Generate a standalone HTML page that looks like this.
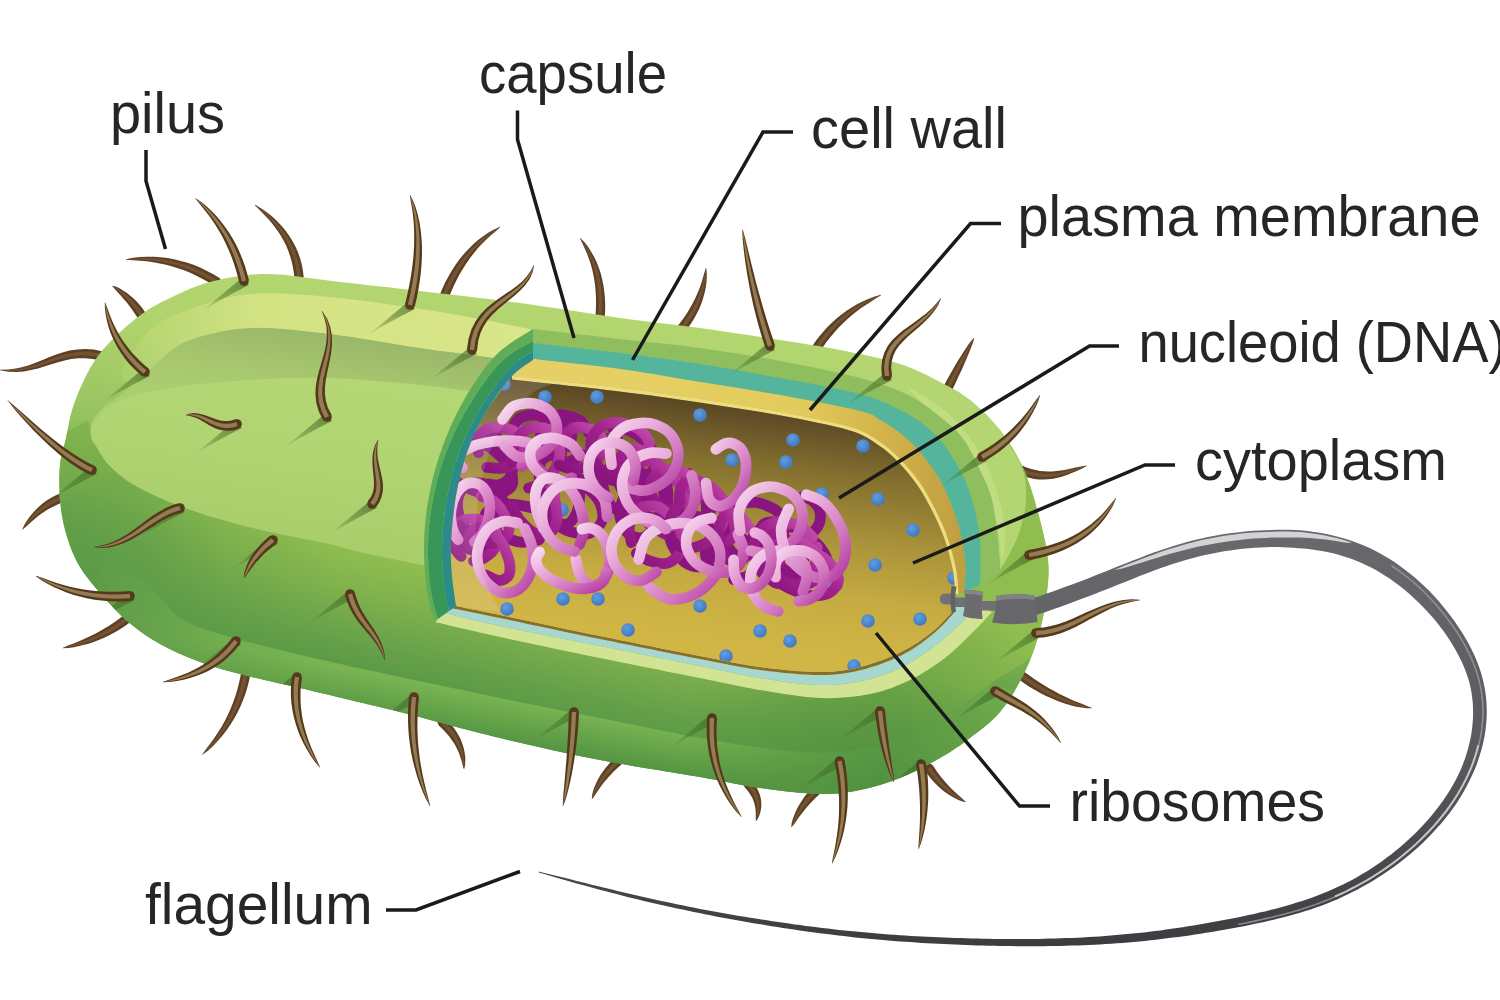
<!DOCTYPE html>
<html lang="en"><head><meta charset="utf-8"><title>Prokaryotic cell</title>
<style>
html,body{margin:0;padding:0;background:#fff;}
body{width:1500px;height:1000px;overflow:hidden;}
svg{display:block;}
text{font-family:"Liberation Sans",sans-serif;fill:#262626;}
</style></head><body>
<svg width="1500" height="1000" viewBox="0 0 1500 1000">
<defs>
<linearGradient id="gBody" gradientUnits="userSpaceOnUse" x1="560" y1="300" x2="500" y2="745">
<stop offset="0" stop-color="#b4d670"/><stop offset="0.38" stop-color="#a9cf69"/><stop offset="0.58" stop-color="#82b852"/><stop offset="0.8" stop-color="#68a549"/><stop offset="1" stop-color="#5a9b46"/></linearGradient>
<linearGradient id="gBand" gradientUnits="userSpaceOnUse" x1="330" y1="544" x2="305" y2="657">
<stop offset="0" stop-color="#8fbd50"/><stop offset="0.35" stop-color="#80b24d"/><stop offset="0.7" stop-color="#6ba44a"/><stop offset="1" stop-color="#5b9a46"/></linearGradient>
<radialGradient id="gBandL" gradientUnits="userSpaceOnUse" cx="70" cy="590" r="270">
<stop offset="0" stop-color="#5a9846" stop-opacity="0.95"/><stop offset="0.3" stop-color="#5c9a47" stop-opacity="0.72"/><stop offset="0.6" stop-color="#5c9a47" stop-opacity="0.25"/><stop offset="1" stop-color="#5c9a47" stop-opacity="0"/></radialGradient>
<linearGradient id="gFace" gradientUnits="userSpaceOnUse" x1="330" y1="334" x2="300" y2="540">
<stop offset="0" stop-color="#9ab86a"/><stop offset="0.24" stop-color="#a8c86e"/><stop offset="0.45" stop-color="#adcf70"/><stop offset="1" stop-color="#a9cd6b"/></linearGradient>
<linearGradient id="gHL" gradientUnits="userSpaceOnUse" x1="110" y1="0" x2="540" y2="0">
<stop offset="0" stop-color="#c4dc7b" stop-opacity="0.2"/><stop offset="0.35" stop-color="#d3e384"/><stop offset="1" stop-color="#d9e689"/></linearGradient>
<linearGradient id="gCyto" gradientUnits="userSpaceOnUse" x1="720" y1="400" x2="690" y2="640">
<stop offset="0" stop-color="#574424"/><stop offset="0.25" stop-color="#84702f"/><stop offset="0.5" stop-color="#a8913a"/><stop offset="0.75" stop-color="#c6ab42"/><stop offset="1" stop-color="#d1b646"/></linearGradient>
<linearGradient id="gYel" gradientUnits="userSpaceOnUse" x1="600" y1="0" x2="960" y2="0">
<stop offset="0" stop-color="#e6d066"/><stop offset="0.55" stop-color="#e3cb5c"/><stop offset="0.78" stop-color="#d3b44b"/><stop offset="1" stop-color="#bf9f40"/></linearGradient>
<linearGradient id="gDNA" x1="0" y1="0" x2="1" y2="1">
<stop offset="0" stop-color="#f6d9ef"/><stop offset="0.35" stop-color="#e9a9d9"/><stop offset="0.7" stop-color="#d277c0"/><stop offset="1" stop-color="#b23a9f"/></linearGradient>
<linearGradient id="gDNA2" x1="1" y1="0" x2="0" y2="1">
<stop offset="0" stop-color="#c552ae"/><stop offset="0.45" stop-color="#a3238f"/><stop offset="1" stop-color="#84127a"/></linearGradient>
<radialGradient id="gRib" cx="0.4" cy="0.35" r="0.7">
<stop offset="0" stop-color="#5f9ee0"/><stop offset="1" stop-color="#3f74bd"/></radialGradient>
<linearGradient id="gFlag" gradientUnits="userSpaceOnUse" x1="0" y1="520" x2="0" y2="950">
<stop offset="0" stop-color="#6a6a6e"/><stop offset="0.55" stop-color="#5a5a5e"/><stop offset="1" stop-color="#3c3c40"/></linearGradient>
<radialGradient id="gBandR" gradientUnits="userSpaceOnUse" cx="880" cy="790" r="210">
<stop offset="0" stop-color="#4c8d3f" stop-opacity="0.9"/><stop offset="0.45" stop-color="#52923f" stop-opacity="0.6"/><stop offset="1" stop-color="#52923f" stop-opacity="0"/></radialGradient>
<linearGradient id="gRim" gradientUnits="userSpaceOnUse" x1="500" y1="697" x2="492" y2="740">
<stop offset="0" stop-color="#7ab452"/><stop offset="0.45" stop-color="#69a64b"/><stop offset="1" stop-color="#549543"/></linearGradient>
<linearGradient id="gSh" x1="1" y1="0" x2="0" y2="1">
<stop offset="0" stop-color="#3c6622" stop-opacity="0.7"/><stop offset="0.6" stop-color="#3f6a24" stop-opacity="0.4"/><stop offset="1" stop-color="#3f6a24" stop-opacity="0.05"/></linearGradient>
<linearGradient id="gFace2" gradientUnits="userSpaceOnUse" x1="330" y1="378" x2="305" y2="545">
<stop offset="0" stop-color="#b4d675"/><stop offset="0.5" stop-color="#b1d472"/><stop offset="1" stop-color="#a9cd6b"/></linearGradient>
<clipPath id="cBody"><path d="M266 274C287.7 274 314.3 279.2 340 282C365.7 284.8 390 287.5 420 291C450 294.5 486.7 298.5 520 303C553.3 307.5 590 313.8 620 318C650 322.2 673.3 324.3 700 328C726.7 331.7 756.7 336.3 780 340C803.3 343.7 820 346 840 350C860 354 883.3 358.7 900 364C916.7 369.3 928.3 376 940 382C951.7 388 960 392 970 400C980 408 991 418.3 1000 430C1009 441.7 1017.3 455 1024 470C1030.7 485 1036 505 1040 520C1044 535 1046.8 548 1048 560C1049.2 572 1048.3 580.3 1047 592C1045.7 603.7 1043.7 616.7 1040 630C1036.3 643.3 1031.7 658.3 1025 672C1018.3 685.7 1009.2 701 1000 712C990.8 723 980 730.3 970 738C960 745.7 951.7 751.3 940 758C928.3 764.7 913.3 772.7 900 778C886.7 783.3 873.3 787.3 860 790C846.7 792.7 836.7 794.3 820 794C803.3 793.7 780 790.8 760 788C740 785.2 726.7 781.7 700 777C673.3 772.3 633.3 766.5 600 760C566.7 753.5 533.3 746 500 738C466.7 730 425 718.3 400 712C375 705.7 366.7 704 350 700C333.3 696 318.3 692.3 300 688C281.7 683.7 256.7 678.3 240 674C223.3 669.7 213.3 667 200 662C186.7 657 172.3 651 160 644C147.7 637 137 629.7 126 620C115 610.3 102.3 596 94 586C85.7 576 80.8 569.3 76 560C71.2 550.7 67.7 540 65 530C62.3 520 60.8 510.8 60 500C59.2 489.2 59 475.3 60 465C61 454.7 64 447.2 66 438C68 428.8 69 419.7 72 410C75 400.3 79.7 389 84 380C88.3 371 92.7 363.3 98 356C103.3 348.7 108.7 343 116 336C123.3 329 133 320.3 142 314C151 307.7 158.7 303.3 170 298C181.3 292.7 194 286 210 282C226 278 244.3 274 266 274Z"/></clipPath>
</defs>
<rect width="1500" height="1000" fill="#fff"/>

<g id="pili-behind">
<circle cx="217" cy="282" r="4.5" fill="#5e4125"/><path d="M219.5 278L213.3 274.3L207 270.9L200.6 267.8L194.1 265.1L187.5 262.8L180.8 260.9L174.1 259.3L167.4 258.1L160.5 257.3L153.7 256.8L146.8 256.7L139.9 257L132.9 257.8L126 259.3L126 259.7L133 260.2L139.9 260.7L146.6 261.3L153.2 262.2L159.7 263.4L166.1 264.8L172.4 266.4L178.6 268.4L184.7 270.6L190.8 273.1L196.8 275.9L202.7 279L208.6 282.3L214.5 286Z" fill="#5e4125"/><path d="M218 280.4L211.9 276.7L205.7 273.4L199.4 270.3L193.1 267.6L186.6 265.2L180.1 263.2L173.6 261.5L167 260.2L160.3 259.1L153.5 258.5L146.7 258.2L139.9 258.2L132.9 258.6L126 259.5L126 259.5L133 259.4L139.9 259.5L146.6 259.9L153.3 260.5L159.9 261.5L166.5 262.7L172.9 264.2L179.3 266.1L185.6 268.2L191.8 270.7L197.9 273.4L204 276.5L210.1 279.9L216 283.6Z" fill="#735332"/>
<circle cx="299" cy="278" r="4.5" fill="#5e4125"/><path d="M303.7 277.5L303 271.3L301.9 265.1L300.3 259L298.3 253.1L295.8 247.3L292.9 241.7L289.7 236.4L286 231.2L281.9 226.2L277.4 221.4L272.5 216.8L267.1 212.5L261.4 208.4L255.1 204.8L254.9 205.2L259.9 210.3L264.7 215.2L269.2 220.1L273.3 225L277 230L280.4 235L283.3 240.1L286 245.3L288.2 250.6L290.1 255.9L291.7 261.4L292.9 266.9L293.8 272.6L294.3 278.5Z" fill="#5e4125"/><path d="M300.8 277.8L300.2 271.7L299.1 265.6L297.6 259.7L295.8 253.9L293.5 248.3L290.8 242.8L287.7 237.5L284.2 232.4L280.4 227.4L276.1 222.5L271.4 217.8L266.4 213.3L260.9 209L255 205L255 205L260.4 209.7L265.5 214.3L270.2 219.1L274.6 223.9L278.5 228.8L282.1 233.8L285.3 239L288.1 244.2L290.5 249.6L292.6 255L294.3 260.6L295.6 266.3L296.6 272.2L297.2 278.2Z" fill="#735332"/>
<circle cx="142" cy="316" r="4.5" fill="#5e4125"/><path d="M145.9 313.4L144.1 310.7L142.2 308.1L140.2 305.5L138 303.1L135.9 300.7L133.6 298.5L131.2 296.4L128.8 294.4L126.3 292.6L123.8 290.9L121.2 289.3L118.5 287.8L115.7 286.6L112.6 285.8L112.4 286.2L114.3 288.6L116.3 290.8L118.3 292.9L120.3 295L122.2 297.2L124.1 299.4L126 301.6L127.8 303.8L129.6 306.2L131.3 308.5L133.1 310.9L134.7 313.4L136.4 315.9L138.1 318.6Z" fill="#5e4125"/><path d="M143.5 315L141.8 312.3L139.9 309.7L138 307.2L136 304.7L133.9 302.4L131.8 300.2L129.6 298L127.4 296L125.1 294L122.7 292.2L120.3 290.4L117.8 288.8L115.2 287.3L112.5 286L112.5 286L114.7 288L117 289.8L119.2 291.8L121.4 293.7L123.5 295.8L125.6 297.8L127.6 300L129.6 302.2L131.5 304.5L133.4 306.8L135.2 309.3L137 311.8L138.8 314.3L140.5 317Z" fill="#735332"/>
<circle cx="64" cy="497" r="4.5" fill="#5e4125"/><path d="M62.4 492.6L58.9 493.9L55.4 495.4L52 497.2L48.7 499.2L45.5 501.3L42.3 503.7L39.4 506.2L36.5 509L33.7 511.9L31.1 514.9L28.6 518.2L26.2 521.7L24.1 525.3L22.3 529.4L22.7 529.6L26 526.8L29 524L32 521.3L35 518.7L37.9 516.3L40.9 514.1L43.9 512L46.9 510.1L49.9 508.3L53 506.7L56 505.2L59.2 503.8L62.3 502.6L65.6 501.4Z" fill="#5e4125"/><path d="M63.4 495.3L59.9 496.5L56.5 498L53.2 499.6L50 501.5L46.8 503.5L43.7 505.7L40.8 508L37.8 510.5L35 513.3L32.3 516.1L29.7 519.2L27.1 522.4L24.7 525.8L22.5 529.5L22.5 529.5L25.4 526.3L28.1 523.3L30.9 520.3L33.8 517.6L36.6 515L39.5 512.5L42.5 510.2L45.5 508.1L48.5 506.2L51.6 504.4L54.8 502.7L58 501.2L61.3 499.9L64.6 498.7Z" fill="#735332"/>
<circle cx="128" cy="618" r="4.5" fill="#5e4125"/><path d="M125.2 614.3L121.2 617.3L117.2 620.2L113.2 623L109.1 625.7L104.9 628.3L100.6 630.8L96.2 633.2L91.7 635.4L87.2 637.6L82.5 639.7L77.8 641.7L72.9 643.7L67.9 645.6L63 647.8L63 648.2L68.5 648L73.9 647.2L79.1 646.1L84.3 644.8L89.4 643.4L94.4 641.7L99.3 639.8L104.1 637.8L108.8 635.6L113.5 633.1L118 630.6L122.4 627.8L126.7 624.8L130.8 621.7Z" fill="#5e4125"/><path d="M126.9 616.6L122.9 619.6L118.8 622.5L114.7 625.3L110.4 628L106.1 630.5L101.7 632.9L97.2 635.2L92.6 637.4L87.9 639.4L83.1 641.3L78.2 643.1L73.2 644.8L68.1 646.4L63 648L63 648L68.3 647.2L73.6 646.1L78.7 644.7L83.7 643.3L88.7 641.6L93.6 639.8L98.3 637.8L103 635.6L107.6 633.3L112.1 630.9L116.5 628.2L120.8 625.5L125 622.5L129.1 619.4Z" fill="#735332"/>
<circle cx="246" cy="672" r="4.5" fill="#5e4125"/><path d="M241.4 671.1L240.2 677.8L238.7 684.3L237 690.7L235.1 696.9L232.9 703L230.5 709.1L227.8 715L224.8 720.9L221.6 726.7L218.1 732.3L214.3 738L210.3 743.5L206.1 749.1L201.9 754.9L202.1 755.1L207.9 750.8L213.1 745.9L217.9 740.8L222.5 735.5L226.7 730L230.6 724.3L234.2 718.5L237.5 712.4L240.5 706.2L243.2 699.8L245.6 693.3L247.6 686.6L249.3 679.8L250.6 672.9Z" fill="#5e4125"/><path d="M244.2 671.7L242.9 678.4L241.4 685L239.6 691.5L237.6 697.8L235.2 704L232.6 710.1L229.8 716.1L226.6 722L223.2 727.7L219.5 733.3L215.5 738.9L211.2 744.3L206.7 749.6L202 755L202 755L207.3 750.2L212.2 745.2L216.8 739.9L221.1 734.5L225.1 729L228.8 723.3L232.2 717.4L235.4 711.4L238.2 705.2L240.7 698.9L242.9 692.5L244.9 685.9L246.5 679.2L247.8 672.3Z" fill="#735332"/>
<circle cx="442" cy="722" r="4.5" fill="#5e4125"/><path d="M438.8 725.4L441.7 728.2L444.4 730.9L446.9 733.7L449.3 736.5L451.4 739.4L453.4 742.3L455.2 745.3L456.8 748.4L458.3 751.5L459.6 754.8L460.7 758.2L461.8 761.6L462.7 765.3L463.8 769L464.2 769L465.1 765.1L465.3 761.2L465.3 757.3L464.8 753.5L464.1 749.7L463.1 745.9L461.8 742.2L460.3 738.5L458.4 735L456.3 731.5L453.9 728.1L451.2 724.8L448.3 721.6L445.2 718.6Z" fill="#5e4125"/><path d="M440.7 723.3L443.8 726.2L446.5 729L449.1 732L451.4 735L453.6 738L455.5 741.2L457.2 744.3L458.8 747.6L460.1 751L461.2 754.4L462.1 757.9L462.9 761.5L463.5 765.2L464 769L464 769L464.3 765.2L464.2 761.3L463.8 757.6L463.2 753.9L462.3 750.2L461.2 746.7L459.8 743.2L458.1 739.7L456.3 736.3L454.1 733L451.8 729.8L449.2 726.7L446.3 723.6L443.3 720.7Z" fill="#735332"/>
<circle cx="622" cy="758" r="4.5" fill="#5e4125"/><path d="M619 754.4L615.9 757.1L612.9 759.9L610 762.8L607.4 765.8L604.9 768.8L602.6 771.9L600.5 775.1L598.6 778.3L596.9 781.6L595.3 784.9L594 788.3L592.9 791.8L592.1 795.3L591.8 798.9L592.2 799.1L594.3 796.2L596.2 793.3L598.1 790.4L600.1 787.6L602.1 784.8L604.2 782.1L606.5 779.4L608.8 776.8L611.2 774.2L613.7 771.6L616.4 769.1L619.1 766.6L622 764.1L625 761.6Z" fill="#5e4125"/><path d="M620.8 756.6L617.7 759.2L614.8 761.9L612 764.7L609.3 767.6L606.9 770.5L604.5 773.4L602.4 776.4L600.3 779.5L598.5 782.6L596.8 785.8L595.3 789L594 792.3L592.8 795.6L592 799L592 799L593.6 795.9L595.2 792.8L596.8 789.8L598.6 786.8L600.5 783.8L602.5 780.9L604.6 778.1L606.9 775.3L609.3 772.5L611.8 769.8L614.4 767.2L617.2 764.5L620.1 762L623.2 759.4Z" fill="#735332"/>
<circle cx="748" cy="784" r="4.5" fill="#5e4125"/><path d="M744.5 787.1L746.4 789.3L748.1 791.3L749.6 793.4L750.9 795.5L752.1 797.6L753.1 799.8L753.9 802L754.6 804.4L755.1 806.8L755.5 809.3L755.7 812L755.8 814.8L755.7 817.7L755.8 820.9L756.2 821.1L758.1 818.3L759.3 815.4L760.3 812.5L760.9 809.5L761.3 806.5L761.3 803.5L761.1 800.5L760.6 797.5L759.7 794.5L758.6 791.6L757.2 788.8L755.6 786L753.6 783.4L751.5 780.9Z" fill="#5e4125"/><path d="M746.6 785.2L748.6 787.5L750.4 789.7L751.9 792L753.3 794.3L754.4 796.7L755.4 799.1L756.1 801.5L756.7 804.1L757 806.7L757.2 809.4L757.1 812.1L756.9 815L756.5 817.9L756 821L756 821L757.3 818.1L758.2 815.2L758.8 812.3L759.2 809.4L759.4 806.6L759.2 803.8L758.9 801L758.3 798.2L757.4 795.5L756.3 792.8L754.9 790.2L753.3 787.6L751.4 785.2L749.4 782.8Z" fill="#735332"/>
<circle cx="816" cy="791" r="4.5" fill="#5e4125"/><path d="M812.7 787.6L810.5 789.9L808.2 792.3L806.1 794.7L804.1 797.3L802.3 799.9L800.5 802.7L798.8 805.4L797.3 808.3L795.9 811.2L794.6 814.2L793.4 817.2L792.4 820.3L791.6 823.5L791.3 826.9L791.7 827.1L793.9 824.5L795.7 821.9L797.5 819.3L799.3 816.8L801.2 814.3L803 811.9L804.9 809.6L806.8 807.3L808.8 805L810.8 802.8L812.8 800.7L814.9 798.6L817 796.5L819.3 794.4Z" fill="#5e4125"/><path d="M814.7 789.7L812.5 791.9L810.3 794.2L808.2 796.6L806.2 799L804.3 801.5L802.4 804.1L800.7 806.7L799.1 809.4L797.5 812.2L796.1 815L794.7 817.9L793.5 820.8L792.4 823.9L791.5 827L791.5 827L793.1 824.2L794.7 821.4L796.3 818.7L797.9 816L799.5 813.4L801.3 810.8L803 808.3L804.9 805.8L806.8 803.5L808.8 801.1L810.8 798.8L812.9 796.6L815 794.5L817.3 792.3Z" fill="#735332"/>
<circle cx="929" cy="768" r="4.5" fill="#5e4125"/><path d="M925.1 770.6L927.2 773.7L929.5 776.8L931.9 779.8L934.4 782.6L937.1 785.3L939.8 787.8L942.6 790.2L945.6 792.5L948.6 794.6L951.8 796.5L955 798.3L958.4 799.9L961.8 801.3L965.5 802.2L965.7 801.8L963 799.2L960.3 796.8L957.6 794.5L955 792.1L952.5 789.7L950 787.3L947.7 784.8L945.4 782.2L943.1 779.6L941 776.9L938.9 774.2L936.9 771.4L934.9 768.5L932.9 765.4Z" fill="#5e4125"/><path d="M927.5 769L929.6 772.1L931.7 775.1L934 778L936.4 780.8L938.9 783.5L941.5 786.1L944.2 788.5L947 790.9L949.8 793.1L952.8 795.2L955.8 797.1L959 798.9L962.2 800.6L965.6 802L965.6 802L962.6 799.9L959.7 797.8L956.8 795.7L954 793.5L951.3 791.2L948.7 788.9L946.1 786.5L943.6 784L941.3 781.4L939 778.7L936.7 775.9L934.6 773L932.5 770.1L930.5 767Z" fill="#735332"/>
<circle cx="1022" cy="676" r="4.5" fill="#5e4125"/><path d="M1019.3 679.8L1024.5 683.5L1029.7 686.9L1035 690L1040.2 693L1045.5 695.7L1050.7 698.1L1055.9 700.3L1061 702.3L1066.2 704L1071.3 705.5L1076.4 706.7L1081.5 707.6L1086.5 708.2L1091.6 708.2L1091.6 707.8L1087 705.9L1082.4 704.1L1077.8 702.3L1073.1 700.4L1068.4 698.3L1063.7 696.1L1058.9 693.7L1054.2 691.1L1049.4 688.4L1044.5 685.5L1039.7 682.4L1034.7 679.2L1029.8 675.8L1024.7 672.2Z" fill="#5e4125"/><path d="M1021 677.5L1026.1 681.1L1031.3 684.5L1036.4 687.7L1041.5 690.7L1046.7 693.4L1051.7 696L1056.8 698.3L1061.9 700.4L1066.9 702.3L1071.9 703.9L1076.8 705.3L1081.8 706.5L1086.7 707.5L1091.6 708L1091.6 708L1086.9 706.6L1082.1 705.2L1077.3 703.7L1072.5 702L1067.7 700.1L1062.9 698L1058 695.7L1053.1 693.3L1048.2 690.6L1043.2 687.8L1038.2 684.8L1033.2 681.5L1028.2 678.1L1023 674.5Z" fill="#735332"/>
<circle cx="946" cy="392" r="4.5" fill="#5e4125"/><path d="M950.2 394.1L952.2 390.1L954.1 386.1L956 382.1L957.8 378.1L959.7 374.1L961.5 370.2L963.3 366.2L965 362.2L966.7 358.3L968.4 354.3L970 350.3L971.6 346.3L973.1 342.3L974.2 338.1L973.8 337.9L970.9 341.2L968.4 344.6L966 348.2L963.6 351.8L961.3 355.4L959 359.1L956.7 362.8L954.5 366.6L952.3 370.4L950.2 374.2L948 378.1L945.9 382L943.8 385.9L941.8 389.9Z" fill="#5e4125"/><path d="M947.6 392.8L949.6 388.8L951.6 384.8L953.5 380.9L955.5 376.9L957.4 373L959.3 369.1L961.3 365.1L963.2 361.3L965 357.4L966.9 353.5L968.8 349.6L970.6 345.8L972.4 341.9L974 338L974 338L971.6 341.5L969.4 345.2L967.2 348.8L965.1 352.5L963 356.3L960.8 360.1L958.7 363.9L956.7 367.7L954.6 371.5L952.5 375.4L950.5 379.3L948.4 383.2L946.4 387.2L944.4 391.2Z" fill="#735332"/>
<circle cx="816" cy="349" r="4.5" fill="#5e4125"/><path d="M819.9 351.6L823.3 346.5L826.8 341.6L830.5 336.9L834.3 332.4L838.2 328.1L842.3 323.9L846.6 319.8L851 316L855.6 312.2L860.4 308.6L865.3 305.2L870.5 301.9L875.7 298.6L881.1 295.2L880.9 294.8L874.7 296.4L868.8 298.7L863.1 301.2L857.5 304L852.1 307.2L846.9 310.5L841.9 314.2L837.1 318.1L832.4 322.2L827.9 326.6L823.7 331.2L819.6 336L815.7 341.1L812.1 346.4Z" fill="#5e4125"/><path d="M817.5 350L821 344.9L824.6 339.9L828.4 335.2L832.3 330.6L836.4 326.3L840.7 322.1L845.2 318.1L849.8 314.3L854.5 310.7L859.5 307.2L864.6 304L869.9 300.9L875.4 297.9L881 295L881 295L875.1 297.1L869.3 299.7L863.8 302.5L858.4 305.5L853.2 308.7L848.2 312.2L843.3 315.9L838.7 319.8L834.2 324L829.9 328.4L825.7 332.9L821.8 337.8L818 342.8L814.5 348Z" fill="#735332"/>
<circle cx="682" cy="328" r="4.5" fill="#5e4125"/><path d="M685.7 330.8L688.8 326.7L691.7 322.5L694.3 318.2L696.7 313.8L698.9 309.4L700.8 304.9L702.4 300.4L703.8 295.8L705 291.2L705.9 286.6L706.5 282L706.8 277.3L706.8 272.7L706.2 268L705.8 268L704.4 272.4L703.2 276.8L702 281.1L700.6 285.3L699.1 289.5L697.4 293.6L695.6 297.6L693.6 301.6L691.5 305.6L689.2 309.6L686.7 313.5L684.1 317.4L681.3 321.2L678.3 325.2Z" fill="#5e4125"/><path d="M683.5 329.1L686.5 325L689.4 320.9L692 316.7L694.4 312.5L696.6 308.2L698.6 303.9L700.3 299.5L701.8 295.1L703.1 290.7L704.2 286.2L705.1 281.7L705.7 277.2L706 272.6L706 268L706 268L705.2 272.5L704.4 277L703.4 281.4L702.2 285.7L700.9 290L699.4 294.3L697.7 298.5L695.8 302.6L693.7 306.8L691.5 310.9L689 314.9L686.4 318.9L683.6 322.9L680.5 326.9Z" fill="#735332"/>
<circle cx="600" cy="318" r="4.5" fill="#5e4125"/><path d="M604.7 318.3L605.1 311.4L605.2 304.6L604.9 298L604.3 291.5L603.4 285.2L602.1 279L600.6 273.1L598.7 267.4L596.5 261.8L593.9 256.5L591 251.4L587.9 246.6L584.3 242L580.2 237.9L579.8 238.1L582.3 243.3L584.7 248.4L587 253.5L588.9 258.7L590.7 264L592.2 269.4L593.4 274.9L594.4 280.5L595.2 286.3L595.7 292.3L596 298.4L596 304.6L595.8 311L595.3 317.7Z" fill="#5e4125"/><path d="M601.8 318.1L602.2 311.3L602.3 304.6L602.2 298.1L601.7 291.7L600.9 285.5L599.8 279.5L598.4 273.7L596.7 268L594.7 262.5L592.4 257.2L589.8 252.1L586.9 247.1L583.6 242.4L580 238L580 238L582.9 242.9L585.7 247.8L588.2 252.8L590.5 258L592.5 263.3L594.2 268.8L595.6 274.3L596.8 280.1L597.7 286L598.3 292L598.7 298.2L598.8 304.6L598.6 311.1L598.2 317.9Z" fill="#735332"/>
<circle cx="444" cy="297" r="4.5" fill="#5e4125"/><path d="M448.4 298.8L451 292.2L453.7 286L456.6 280.1L459.6 274.3L462.9 268.8L466.3 263.4L469.9 258.3L473.6 253.4L477.6 248.6L481.8 244.1L486.1 239.7L490.6 235.5L495.4 231.4L500.1 227.2L499.9 226.8L494 229.4L488.5 232.6L483.2 236.2L478.1 240.1L473.2 244.3L468.6 248.9L464.1 253.7L459.9 258.8L455.9 264.2L452.2 269.9L448.7 275.9L445.4 282.1L442.4 288.6L439.6 295.2Z" fill="#5e4125"/><path d="M445.7 297.7L448.3 291.1L451.2 284.8L454.2 278.8L457.4 273L460.7 267.4L464.3 262L468.1 256.9L472.1 252L476.2 247.3L480.6 242.9L485.2 238.6L490 234.6L494.9 230.8L500 227L500 227L494.4 230.1L489.2 233.5L484.1 237.3L479.2 241.3L474.6 245.7L470.1 250.3L465.9 255.1L461.9 260.2L458.1 265.6L454.5 271.3L451.1 277.1L448 283.3L445 289.7L442.3 296.3Z" fill="#735332"/>
<circle cx="102" cy="356" r="4.5" fill="#5e4125"/><path d="M102.9 351.4L94 349.6L85.3 349L77.2 349.4L69.6 350.6L62.4 352.4L55.6 354.7L49 357.3L42.6 359.9L36.2 362.5L29.7 364.9L22.9 366.9L15.9 368.4L8.3 369.4L0 369.8L-0 370.2L8.3 371.8L16.2 372L23.8 371.4L31.1 370.1L38.1 368.4L44.9 366.3L51.5 364.2L58 362.2L64.6 360.4L71.2 359.1L78 358.3L85.1 358.2L92.7 358.9L101.1 360.6Z" fill="#5e4125"/><path d="M102.4 354.2L93.6 352.5L85.3 351.8L77.5 352.1L70.1 353.2L63.1 354.9L56.3 357L49.8 359.4L43.3 361.9L36.8 364.3L30.1 366.5L23.2 368.3L16 369.6L8.3 370.1L0 370L-0 370L8.3 371L16.1 370.9L23.5 370L30.6 368.5L37.5 366.5L44.2 364.3L50.7 362.1L57.3 359.9L63.9 358L70.7 356.5L77.8 355.5L85.2 355.3L93.1 356L101.6 357.8Z" fill="#735332"/>
<circle cx="1020" cy="470" r="4.5" fill="#5e4125"/><path d="M1018.4 474.4L1023.7 476.3L1029 477.8L1034.1 478.9L1039 479.4L1043.8 479.6L1048.5 479.3L1053.2 478.7L1057.8 477.8L1062.4 476.5L1067 475L1071.8 473.1L1076.7 471L1081.8 468.7L1087.1 465.8L1086.9 465.4L1081 466.4L1075.5 467.6L1070.4 468.7L1065.6 469.7L1061 470.5L1056.6 471.1L1052.3 471.4L1048.2 471.5L1044.1 471.3L1040 470.9L1035.7 470.1L1031.3 469L1026.7 467.5L1021.6 465.6Z" fill="#5e4125"/><path d="M1019.4 471.7L1024.6 473.6L1029.7 475.1L1034.6 476.2L1039.3 476.8L1043.9 477.1L1048.4 476.9L1052.9 476.5L1057.4 475.7L1061.9 474.6L1066.6 473.3L1071.3 471.8L1076.3 470L1081.5 467.9L1087 465.6L1087 465.6L1081.3 467.1L1075.9 468.7L1070.8 470.1L1066 471.3L1061.4 472.4L1056.9 473.1L1052.6 473.7L1048.3 473.9L1044 473.9L1039.7 473.5L1035.2 472.8L1030.6 471.7L1025.8 470.2L1020.6 468.3Z" fill="#735332"/>
</g>
<g id="body">
<path d="M266 274C287.7 274 314.3 279.2 340 282C365.7 284.8 390 287.5 420 291C450 294.5 486.7 298.5 520 303C553.3 307.5 590 313.8 620 318C650 322.2 673.3 324.3 700 328C726.7 331.7 756.7 336.3 780 340C803.3 343.7 820 346 840 350C860 354 883.3 358.7 900 364C916.7 369.3 928.3 376 940 382C951.7 388 960 392 970 400C980 408 991 418.3 1000 430C1009 441.7 1017.3 455 1024 470C1030.7 485 1036 505 1040 520C1044 535 1046.8 548 1048 560C1049.2 572 1048.3 580.3 1047 592C1045.7 603.7 1043.7 616.7 1040 630C1036.3 643.3 1031.7 658.3 1025 672C1018.3 685.7 1009.2 701 1000 712C990.8 723 980 730.3 970 738C960 745.7 951.7 751.3 940 758C928.3 764.7 913.3 772.7 900 778C886.7 783.3 873.3 787.3 860 790C846.7 792.7 836.7 794.3 820 794C803.3 793.7 780 790.8 760 788C740 785.2 726.7 781.7 700 777C673.3 772.3 633.3 766.5 600 760C566.7 753.5 533.3 746 500 738C466.7 730 425 718.3 400 712C375 705.7 366.7 704 350 700C333.3 696 318.3 692.3 300 688C281.7 683.7 256.7 678.3 240 674C223.3 669.7 213.3 667 200 662C186.7 657 172.3 651 160 644C147.7 637 137 629.7 126 620C115 610.3 102.3 596 94 586C85.7 576 80.8 569.3 76 560C71.2 550.7 67.7 540 65 530C62.3 520 60.8 510.8 60 500C59.2 489.2 59 475.3 60 465C61 454.7 64 447.2 66 438C68 428.8 69 419.7 72 410C75 400.3 79.7 389 84 380C88.3 371 92.7 363.3 98 356C103.3 348.7 108.7 343 116 336C123.3 329 133 320.3 142 314C151 307.7 158.7 303.3 170 298C181.3 292.7 194 286 210 282C226 278 244.3 274 266 274Z" fill="url(#gBody)"/>
<g clip-path="url(#cBody)">
<path d="M70 500C73.3 505 81 521.3 90 530C99 538.7 114 542.7 124 552C134 561.3 140.7 575 150 586C159.3 597 168.3 610 180 618C191.7 626 203.3 628.7 220 634C236.7 639.3 260 645 280 650C300 655 320 659.5 340 664C360 668.5 373.3 671.3 400 677C426.7 682.7 466.7 691.2 500 698C533.3 704.8 566.7 711.3 600 718C633.3 724.7 670 732.7 700 738C730 743.3 756.7 747.7 780 750C803.3 752.3 820 753.7 840 752C860 750.3 881.7 746 900 740C918.3 734 935 725.3 950 716C965 706.7 975 695 990 684C1005 673 1025.8 664 1040 650C1054.2 636 1069.2 630 1075 600C1080.8 570 1085.5 498.7 1075 470C1064.5 441.3 1022.5 435 1012 428L1000 440L940 395L800 370L533 340L432 567L432 567C420 564.5 377 555.8 360 552C343 548.2 343.3 547 330 544C316.7 541 296.7 537.7 280 534C263.3 530.3 246.7 526.7 230 522C213.3 517.3 195.7 512 180 506C164.3 500 147.7 492.7 136 486C124.3 479.3 116.7 472.7 110 466C103.3 459.3 99.7 453.7 96 446C92.3 438.3 89.3 424.3 88 420L60 436L30 500Z" fill="url(#gBand)"/>
<path d="M150 586C155 591.3 168.3 610 180 618C191.7 626 203.3 628.7 220 634C236.7 639.3 260 645 280 650C300 655 320 659.5 340 664C360 668.5 373.3 671.3 400 677C426.7 682.7 466.7 691.2 500 698C533.3 704.8 566.7 711.3 600 718C633.3 724.7 670 732.7 700 738C730 743.3 756.7 747.7 780 750C803.3 752.3 820 753.7 840 752C860 750.3 881.7 746 900 740C918.3 734 935 725.3 950 716C965 706.7 983.3 689.3 990 684L1045 700L1100 720L1100 900L60 900L100 560Z" fill="url(#gRim)"/>
<path d="M266 274C287.7 274 314.3 279.2 340 282C365.7 284.8 390 287.5 420 291C450 294.5 486.7 298.5 520 303C553.3 307.5 590 313.8 620 318C650 322.2 673.3 324.3 700 328C726.7 331.7 756.7 336.3 780 340C803.3 343.7 820 346 840 350C860 354 883.3 358.7 900 364C916.7 369.3 928.3 376 940 382C951.7 388 960 392 970 400C980 408 991 418.3 1000 430C1009 441.7 1017.3 455 1024 470C1030.7 485 1036 505 1040 520C1044 535 1046.8 548 1048 560C1049.2 572 1048.3 580.3 1047 592C1045.7 603.7 1043.7 616.7 1040 630C1036.3 643.3 1031.7 658.3 1025 672C1018.3 685.7 1009.2 701 1000 712C990.8 723 980 730.3 970 738C960 745.7 951.7 751.3 940 758C928.3 764.7 913.3 772.7 900 778C886.7 783.3 873.3 787.3 860 790C846.7 792.7 836.7 794.3 820 794C803.3 793.7 780 790.8 760 788C740 785.2 726.7 781.7 700 777C673.3 772.3 633.3 766.5 600 760C566.7 753.5 533.3 746 500 738C466.7 730 425 718.3 400 712C375 705.7 366.7 704 350 700C333.3 696 318.3 692.3 300 688C281.7 683.7 256.7 678.3 240 674C223.3 669.7 213.3 667 200 662C186.7 657 172.3 651 160 644C147.7 637 137 629.7 126 620C115 610.3 102.3 596 94 586C85.7 576 80.8 569.3 76 560C71.2 550.7 67.7 540 65 530C62.3 520 60.8 510.8 60 500C59.2 489.2 59 475.3 60 465C61 454.7 64 447.2 66 438C68 428.8 69 419.7 72 410C75 400.3 79.7 389 84 380C88.3 371 92.7 363.3 98 356C103.3 348.7 108.7 343 116 336C123.3 329 133 320.3 142 314C151 307.7 158.7 303.3 170 298C181.3 292.7 194 286 210 282C226 278 244.3 274 266 274Z" fill="url(#gBandL)"/>
<path d="M266 274C287.7 274 314.3 279.2 340 282C365.7 284.8 390 287.5 420 291C450 294.5 486.7 298.5 520 303C553.3 307.5 590 313.8 620 318C650 322.2 673.3 324.3 700 328C726.7 331.7 756.7 336.3 780 340C803.3 343.7 820 346 840 350C860 354 883.3 358.7 900 364C916.7 369.3 928.3 376 940 382C951.7 388 960 392 970 400C980 408 991 418.3 1000 430C1009 441.7 1017.3 455 1024 470C1030.7 485 1036 505 1040 520C1044 535 1046.8 548 1048 560C1049.2 572 1048.3 580.3 1047 592C1045.7 603.7 1043.7 616.7 1040 630C1036.3 643.3 1031.7 658.3 1025 672C1018.3 685.7 1009.2 701 1000 712C990.8 723 980 730.3 970 738C960 745.7 951.7 751.3 940 758C928.3 764.7 913.3 772.7 900 778C886.7 783.3 873.3 787.3 860 790C846.7 792.7 836.7 794.3 820 794C803.3 793.7 780 790.8 760 788C740 785.2 726.7 781.7 700 777C673.3 772.3 633.3 766.5 600 760C566.7 753.5 533.3 746 500 738C466.7 730 425 718.3 400 712C375 705.7 366.7 704 350 700C333.3 696 318.3 692.3 300 688C281.7 683.7 256.7 678.3 240 674C223.3 669.7 213.3 667 200 662C186.7 657 172.3 651 160 644C147.7 637 137 629.7 126 620C115 610.3 102.3 596 94 586C85.7 576 80.8 569.3 76 560C71.2 550.7 67.7 540 65 530C62.3 520 60.8 510.8 60 500C59.2 489.2 59 475.3 60 465C61 454.7 64 447.2 66 438C68 428.8 69 419.7 72 410C75 400.3 79.7 389 84 380C88.3 371 92.7 363.3 98 356C103.3 348.7 108.7 343 116 336C123.3 329 133 320.3 142 314C151 307.7 158.7 303.3 170 298C181.3 292.7 194 286 210 282C226 278 244.3 274 266 274Z" fill="url(#gBandR)"/>
</g>
<path d="M545 364C534.2 362.5 500.8 357.7 480 355C459.2 352.3 445 351.5 420 348C395 344.5 358.3 337.3 330 334C301.7 330.7 273.3 327 250 328C226.7 329 205 334.7 190 340C175 345.3 170.8 351.3 160 360C149.2 368.7 134.5 384 125 392C115.5 400 108.5 403 103 408C97.5 413 94 417.3 92 422C90 426.7 90.3 432 91 436C91.7 440 92.8 441 96 446C99.2 451 103.3 459.3 110 466C116.7 472.7 124.3 479.3 136 486C147.7 492.7 164.3 500 180 506C195.7 512 213.3 517.3 230 522C246.7 526.7 263.3 530.3 280 534C296.7 537.7 316.7 541 330 544C343.3 547 343 548.2 360 552C377 555.8 420 564.5 432 567L545 592Z" fill="url(#gFace)"/>
<path d="M545 402C525.8 399.3 465.8 390 430 386C394.2 382 360 379 330 378C300 377 276.7 378.3 250 380C223.3 381.7 192 384.3 170 388C148 391.7 130.5 396.3 118 402C105.5 407.7 99.5 416.3 95 422C90.5 427.7 90.8 432 91 436C91.2 440 92.8 441 96 446C99.2 451 103.3 459.3 110 466C116.7 472.7 124.3 479.3 136 486C147.7 492.7 164.3 500 180 506C195.7 512 213.3 517.3 230 522C246.7 526.7 263.3 530.3 280 534C296.7 537.7 316.7 541 330 544C343.3 547 343 548.2 360 552C377 555.8 420 564.5 432 567L545 592Z" fill="url(#gFace2)"/>
<path d="M120 372C125 365 138.3 340.5 150 330C161.7 319.5 173.3 315 190 309C206.7 303 226.7 296 250 294C273.3 292 301.7 294.5 330 297C358.3 299.5 395 305.3 420 309C445 312.7 460.7 315.4 480 319C499.3 322.6 526.7 328.6 536 330.5L536 364C526.7 362.7 499.3 358.7 480 356C460.7 353.3 445 351.7 420 348C395 344.3 358.3 337.3 330 334C301.7 330.7 273.3 327 250 328C226.7 329 205 334.7 190 340C175 345.3 170 352 160 360C150 368 135 383.3 130 388Z" fill="url(#gHL)"/>
</g>
<g id="cut">
<path d="M860 378C868.3 381 896 389 910 396C924 403 935 412.7 944 420C953 427.3 958 431.7 964 440C970 448.3 975.3 460 980 470C984.7 480 989 488.3 992 500C995 511.7 996.7 528.3 998 540C999.3 551.7 999.7 565 1000 570L1000 570C1001.7 567.2 1006.7 559.7 1010 553C1013.3 546.3 1017.3 538.8 1020 530C1022.7 521.2 1025.7 510.3 1026 500C1026.3 489.7 1026.3 479.7 1022 468C1017.7 456.3 1003.7 436.3 1000 430L970 400L940 382L900 364L860 354Z" fill="#b3d672"/>
<path d="M905 385C912.5 390 936.7 402.2 950 415C963.3 427.8 976 444.5 985 462C994 479.5 1001.2 503.3 1004 520C1006.8 536.7 1003.3 562 1002 562C1000.7 562 1000.3 535.3 996 520C991.7 504.7 984.7 485.3 976 470C967.3 454.7 955.8 442.2 944 428C932.2 413.8 911.5 392.2 905 385" fill="#c0dd82"/>
<path d="M533 329C547.5 330.7 592.2 335.8 620 339C647.8 342.2 673.3 344.3 700 348C726.7 351.7 753.3 356 780 361C806.7 366 838.3 372.2 860 378C881.7 383.8 896 389 910 396C924 403 935 412.7 944 420C953 427.3 958 431.7 964 440C970 448.3 975.3 460 980 470C984.7 480 989 488.3 992 500C995 511.7 996.7 528.3 998 540C999.3 551.7 999.7 565 1000 570L980 585C980 577.5 981.3 554.2 980 540C978.7 525.8 975.3 511.7 972 500C968.7 488.3 965.3 480 960 470C954.7 460 946.7 448 940 440C933.3 432 926.7 427 920 422C913.3 417 910 414.7 900 410C890 405.3 880 399.3 860 394C840 388.7 806.7 383 780 378C753.3 373 726.7 368.2 700 364C673.3 359.8 647.8 356.5 620 353C592.2 349.5 547.5 344.7 533 343Z" fill="#8fbe5f"/>
<path d="M533 343C547.5 344.7 592.2 349.5 620 353C647.8 356.5 673.3 359.8 700 364C726.7 368.2 753.3 373 780 378C806.7 383 840 388.7 860 394C880 399.3 890 405.3 900 410C910 414.7 913.3 417 920 422C926.7 427 933.3 432 940 440C946.7 448 954.7 460 960 470C965.3 480 968.7 488.3 972 500C975.3 511.7 978.7 525.8 980 540C981.3 554.2 980 577.5 980 585L964 592C964.2 588.3 965.8 578.7 965.5 570C965.2 561.3 963.9 549.7 962 540C960.1 530.3 957.7 522 954 512C950.3 502 945.7 490 940 480C934.3 470 926.7 459.8 920 452C913.3 444.2 906.7 438.3 900 433C893.3 427.7 886.7 423.7 880 420C873.3 416.3 876.7 415.2 860 411C843.3 406.8 806.7 399.8 780 395C753.3 390.2 726.7 386.3 700 382C673.3 377.7 647.8 372.8 620 369C592.2 365.2 547.5 360.7 533 359Z" fill="#55b49c"/>
<path d="M533 359C547.5 360.7 592.2 365.2 620 369C647.8 372.8 673.3 377.7 700 382C726.7 386.3 753.3 390.2 780 395C806.7 399.8 843.3 406.8 860 411C876.7 415.2 873.3 416.3 880 420C886.7 423.7 893.3 427.7 900 433C906.7 438.3 913.3 444.2 920 452C926.7 459.8 934.3 470 940 480C945.7 490 950.3 502 954 512C957.7 522 960.1 530.3 962 540C963.9 549.7 965.2 561.3 965.5 570C965.8 578.7 964.2 588.3 964 592L958.5 594C958.1 589.8 957.8 578.2 956 569C954.2 559.8 951.3 548.7 948 539C944.7 529.3 940.7 520.3 936 511C931.3 501.7 926 491.7 920 483C914 474.3 906.7 465.8 900 459C893.3 452.2 888.3 447.3 880 442C871.7 436.7 866.7 432 850 427C833.3 422 805 416.7 780 412C755 407.3 726.7 403 700 399C673.3 395 651.3 391.8 620 388C588.7 384.2 530 378 512 376Z" fill="url(#gYel)"/>
<path d="M512 376C530 378 588.7 384.2 620 388C651.3 391.8 673.3 395 700 399C726.7 403 755 407.3 780 412C805 416.7 833.3 422 850 427C866.7 432 871.7 436.7 880 442C888.3 447.3 893.3 452.2 900 459C906.7 465.8 914 474.3 920 483C926 491.7 931.3 501.7 936 511C940.7 520.3 944.7 529.3 948 539C951.3 548.7 954.2 559.8 956 569C957.8 578.2 958.1 589.8 958.5 594L955.1 594.3C954.7 590.2 954.4 578.7 952.7 569.6C950.9 560.6 948.1 549.6 944.8 540.1C941.5 530.6 937.6 521.7 933 512.5C928.4 503.3 923.1 493.5 917.2 484.9C911.3 476.4 904.1 468.1 897.6 461.4C891.1 454.7 886.3 450.1 878.2 444.9C870.1 439.7 865.5 435.2 849 430.3C832.6 425.3 804.3 420 779.4 415.3C754.5 410.7 726.1 406.4 699.5 402.4C672.9 398.4 650.8 395.2 619.6 391.4C588.3 387.6 529.9 381.5 512 379.5Z" fill="#f0dc7c"/>
<path d="M435 622C445.8 624.5 472.5 631 500 637C527.5 643 566.7 651.2 600 658C633.3 664.8 673.3 672.7 700 678C726.7 683.3 740 686.7 760 690C780 693.3 801.7 697.3 820 698C838.3 698.7 855 697 870 694C885 691 897.5 686 910 680C922.5 674 934.2 666.3 945 658C955.8 649.7 967.2 637.7 975 630C982.8 622.3 989.2 615 992 612L976 606C973.7 608.7 968.7 615.5 962 622C955.3 628.5 945.7 637.7 936 645C926.3 652.3 915.7 660.2 904 666C892.3 671.8 880 676.8 866 680C852 683.2 837.7 685.3 820 685C802.3 684.7 780 681.2 760 678C740 674.8 726.7 671.3 700 666C673.3 660.7 633.3 652.7 600 646C566.7 639.3 526.7 631.7 500 626C473.3 620.3 450 614.3 440 612Z" fill="#d3e394"/>
<path d="M440 612C450 614.3 473.3 620.3 500 626C526.7 631.7 566.7 639.3 600 646C633.3 652.7 673.3 660.7 700 666C726.7 671.3 740 674.8 760 678C780 681.2 802.3 684.7 820 685C837.7 685.3 852 683.2 866 680C880 676.8 892.3 671.8 904 666C915.7 660.2 926.3 652.3 936 645C945.7 637.7 955.3 628.5 962 622C968.7 615.5 973.7 608.7 976 606L960 598C958.7 600 957 604.5 952 610C947 615.5 938.7 624.2 930 631C921.3 637.8 911.7 645.2 900 651C888.3 656.8 873.3 662.7 860 666C846.7 669.3 836.7 671 820 671C803.3 671 780 668.7 760 666C740 663.3 726.7 660.3 700 655C673.3 649.7 633.3 640.8 600 634C566.7 627.2 524.8 619 500 614C475.2 609 459.2 605.7 451 604Z" fill="#a6d8d0"/>
<path d="M954 610C950.3 613.7 940.8 625 932 632C923.2 639 913 646.2 901 652C889 657.8 873.5 663.7 860 667C846.5 670.3 836.7 672 820 672C803.3 672 780 669.7 760 667C740 664.3 726.7 661.2 700 656C673.3 650.8 633.3 642.8 600 636C566.7 629.2 524 620 500 615C476 610 463.3 607.5 456 606L451 608L451 608C459.2 609.7 475.2 612.8 500 618C524.8 623.2 566.7 632.2 600 639C633.3 645.8 673.3 653.8 700 659C726.7 664.2 740 667.3 760 670C780 672.7 803.2 675 820 675C836.8 675 847.3 673.3 861 670C874.7 666.7 890 661 902 655C914 649 924.3 641 933 634C941.7 627 950.5 616.5 954 613Z" fill="#8a6f22"/>
<path id="cyto" d="M512 379.5C529.9 381.5 588.3 387.6 619.6 391.4C650.8 395.2 672.9 398.4 699.5 402.4C726.1 406.4 754.5 410.7 779.4 415.3C804.3 420 832.6 425.3 849 430.3C865.5 435.2 870.1 439.7 878.2 444.9C886.3 450.1 891.1 454.7 897.6 461.4C904.1 468.1 911.3 476.4 917.2 484.9C923.1 493.5 928.4 503.3 933 512.5C937.6 521.7 941.5 530.6 944.8 540.1C948.1 549.6 950.9 560.6 952.7 569.6C954.4 578.7 954.7 590.2 955.1 594.3L954 610C950.3 613.7 940.8 625 932 632C923.2 639 913 646.2 901 652C889 657.8 873.5 663.7 860 667C846.5 670.3 836.7 672 820 672C803.3 672 780 669.7 760 667C740 664.3 726.7 661.2 700 656C673.3 650.8 633.3 642.8 600 636C566.7 629.2 524 620 500 615C476 610 463.3 607.5 456 606L456 606C455.3 601 452.8 586.3 452 576C451.2 565.7 450.3 557.3 451 544C451.7 530.7 453.2 511.7 456 496C458.8 480.3 463 464 468 450C473 436 478.7 424.3 486 412C493.3 399.7 507.7 382 512 376Z" fill="url(#gCyto)"/>
<clipPath id="cCyto"><path d="M512 379.5C529.9 381.5 588.3 387.6 619.6 391.4C650.8 395.2 672.9 398.4 699.5 402.4C726.1 406.4 754.5 410.7 779.4 415.3C804.3 420 832.6 425.3 849 430.3C865.5 435.2 870.1 439.7 878.2 444.9C886.3 450.1 891.1 454.7 897.6 461.4C904.1 468.1 911.3 476.4 917.2 484.9C923.1 493.5 928.4 503.3 933 512.5C937.6 521.7 941.5 530.6 944.8 540.1C948.1 549.6 950.9 560.6 952.7 569.6C954.4 578.7 954.7 590.2 955.1 594.3L954 610C950.3 613.7 940.8 625 932 632C923.2 639 913 646.2 901 652C889 657.8 873.5 663.7 860 667C846.5 670.3 836.7 672 820 672C803.3 672 780 669.7 760 667C740 664.3 726.7 661.2 700 656C673.3 650.8 633.3 642.8 600 636C566.7 629.2 524 620 500 615C476 610 463.3 607.5 456 606L456 606C455.3 601 452.8 586.3 452 576C451.2 565.7 450.3 557.3 451 544C451.7 530.7 453.2 511.7 456 496C458.8 480.3 463 464 468 450C473 436 478.7 424.3 486 412C493.3 399.7 507.7 382 512 376Z"/></clipPath>
<path d="M533 329C526.8 333.3 507.5 343.2 496 355C484.5 366.8 473 384.5 464 400C455 415.5 447.8 432 442 448C436.2 464 432 480 429 496C426 512 424.3 528 424 544C423.7 560 425.2 579 427 592C428.8 605 433.7 617 435 622L438 619C436.8 614.2 432.7 602.5 431 590C429.3 577.5 427.6 559.5 428 544C428.4 528.5 430.3 512.7 433.5 497C436.7 481.3 440.9 465.5 447 450C453.1 434.5 460.8 418.8 470 404C479.2 389.2 491.5 371.5 502 361C512.5 350.5 527.8 344.3 533 341Z" fill="#5fad58"/>
<path d="M533 341C527.8 344.3 512.5 350.5 502 361C491.5 371.5 479.2 389.2 470 404C460.8 418.8 453.1 434.5 447 450C440.9 465.5 436.7 481.3 433.5 497C430.3 512.7 428.4 528.5 428 544C427.6 559.5 429.3 577.5 431 590C432.7 602.5 436.8 614.2 438 619L449 611C448.2 606.3 445.2 594.2 444 583C442.8 571.8 441.5 558.2 442 544C442.5 529.8 444.2 513.2 447 498C449.8 482.8 453.5 467.8 459 453C464.5 438.2 471.7 423 480 409C488.3 395 500.2 378.7 509 369C517.8 359.3 529 354 533 351Z" fill="#389659"/>
<path d="M533 351C529 354 517.8 359.3 509 369C500.2 378.7 488.3 395 480 409C471.7 423 464.5 438.2 459 453C453.5 467.8 449.8 482.8 447 498C444.2 513.2 442.5 529.8 442 544C441.5 558.2 442.8 571.8 444 583C445.2 594.2 448.2 606.3 449 611L456 606C455.3 601 452.8 586.3 452 576C451.2 565.7 450.3 557.3 451 544C451.7 530.7 453.2 511.7 456 496C458.8 480.3 463 464 468 450C473 436 478.7 424.3 486 412C493.3 399.7 504.2 384.7 512 376C519.8 367.3 529.5 362.7 533 360Z" fill="#2b8b88"/>
</g>
<g id="ribosomes" clip-path="url(#cCyto)">
<circle cx="504" cy="384" r="6.8" fill="url(#gRib)"/>
<circle cx="545" cy="397" r="6.8" fill="url(#gRib)"/>
<circle cx="597" cy="397" r="6.8" fill="url(#gRib)"/>
<circle cx="700" cy="415" r="6.8" fill="url(#gRib)"/>
<circle cx="793" cy="440" r="6.8" fill="url(#gRib)"/>
<circle cx="863" cy="446" r="6.8" fill="url(#gRib)"/>
<circle cx="786" cy="462" r="6.8" fill="url(#gRib)"/>
<circle cx="822" cy="494" r="6.8" fill="url(#gRib)"/>
<circle cx="878" cy="499" r="6.8" fill="url(#gRib)"/>
<circle cx="913" cy="530" r="6.8" fill="url(#gRib)"/>
<circle cx="875" cy="565" r="6.8" fill="url(#gRib)"/>
<circle cx="836" cy="585" r="6.8" fill="url(#gRib)"/>
<circle cx="868" cy="621" r="6.8" fill="url(#gRib)"/>
<circle cx="920" cy="619" r="6.8" fill="url(#gRib)"/>
<circle cx="760" cy="631" r="6.8" fill="url(#gRib)"/>
<circle cx="790" cy="641" r="6.8" fill="url(#gRib)"/>
<circle cx="726" cy="656" r="6.8" fill="url(#gRib)"/>
<circle cx="854" cy="666" r="6.8" fill="url(#gRib)"/>
<circle cx="628" cy="630" r="6.8" fill="url(#gRib)"/>
<circle cx="700" cy="606" r="6.8" fill="url(#gRib)"/>
<circle cx="598" cy="599" r="6.8" fill="url(#gRib)"/>
<circle cx="563" cy="599" r="6.8" fill="url(#gRib)"/>
<circle cx="507" cy="609" r="6.8" fill="url(#gRib)"/>
<circle cx="516" cy="430" r="6.8" fill="url(#gRib)"/>
<circle cx="562" cy="510" r="6.8" fill="url(#gRib)"/>
<circle cx="732" cy="460" r="6.8" fill="url(#gRib)"/>
<circle cx="720" cy="506" r="6.8" fill="url(#gRib)"/>
<circle cx="954" cy="578" r="6.8" fill="url(#gRib)"/>
</g>
<g id="dna" clip-path="url(#cCyto)" fill="none" stroke-linecap="round" stroke-width="10.8">
<path d="M473.5 441.5C475 440.4 479.3 435.9 482.6 434.9C485.9 433.9 490.3 434.4 493.5 435.5C496.7 436.7 499.5 439.4 501.8 441.7C504.1 444 505.6 446.7 507.2 449.4C508.8 452 510.4 454.7 511.3 457.8C512.3 461 513.3 464.9 512.9 468.4C512.5 471.9 511 476.3 508.7 479C506.5 481.7 502.5 484 499.2 484.8C495.9 485.6 490.5 484.2 488.7 484" stroke="#8a1580"/>
<path d="M460.6 442.6C464.6 442.9 477.8 442.2 484.6 444.6C491.3 447 496.7 452.6 501.1 457C505.5 461.3 509.3 465.7 511 470.7C512.6 475.7 514.3 482.9 511.1 486.9C508 491 499.1 494.6 492.2 495C485.4 495.3 476.4 491.8 469.9 489.1C463.5 486.4 458.1 483.1 453.3 478.9C448.5 474.7 442.1 468.9 441.3 463.9C440.5 458.9 447.1 451.2 448.3 448.7" stroke="#8a1580"/>
<path d="M467.3 530.8C466.2 529.2 462.3 524.6 460.8 521.5C459.3 518.3 458.8 515.2 458.3 512C457.7 508.9 457.2 505.8 457.5 502.5C457.8 499.2 458.3 495.3 460.2 492.3C462.1 489.3 465.4 485.9 469.1 484.3C472.7 482.8 477.9 482.4 481.9 483.1C485.9 483.7 490 486.2 493 488.3C496.1 490.5 498.2 493.4 500.3 496.1C502.4 498.8 504.7 503 505.5 504.4" stroke="#8a1580"/>
<path d="M539.2 539.8C536.2 540.2 526.7 542.6 521 542.2C515.3 541.8 510 539.5 505.2 537.5C500.4 535.6 495.8 533.7 492.2 530.6C488.7 527.6 484.3 523.3 484 519.5C483.8 515.7 486.9 510.6 490.9 508C494.8 505.5 502.4 504.7 507.9 504.3C513.4 504 518.6 504.9 523.9 505.9C529.2 507 535.4 508 539.8 510.5C544.1 513.1 548.4 519.6 550.1 521.4" stroke="#8a1580"/>
<path d="M472.2 486.6C474.9 487.8 484.2 489.6 488.1 493.5C492 497.4 494.3 504.5 495.7 509.8C497.2 515.1 497 520.1 496.7 525.3C496.4 530.5 496.2 536.5 493.7 540.9C491.2 545.3 486.3 550.4 481.6 551.4C476.9 552.4 469.7 549.9 465.4 546.8C461 543.7 457.9 537.7 455.4 532.9C452.8 528.1 451 523.5 450 518.2C449 512.9 449.4 503.9 449.3 501" stroke="#8a1580"/>
<path d="M579.6 478.5C579.6 481.4 580.2 490.2 579.7 495.9C579.2 501.6 578.8 507.9 576.7 512.7C574.5 517.4 570.6 523.1 566.6 524.2C562.7 525.3 556.5 522.7 552.7 519.1C549 515.6 546.2 508.3 544.1 502.8C542 497.2 540.9 491.8 540.1 485.8C539.3 479.9 538.2 472.7 539.5 467.1C540.7 461.5 543.9 454.5 547.6 452.3C551.2 450 559.1 453.3 561.4 453.6" stroke="#8a1580"/>
<path d="M581.9 454.4C579.7 455.6 573.1 461.2 568.8 461.7C564.4 462.3 559.7 459.7 556.1 457.7C552.5 455.7 549.6 453.2 547 449.9C544.4 446.6 541 442.3 540.5 437.8C540 433.2 541.3 426.3 544.1 422.5C546.8 418.7 552.7 416.1 556.9 415.1C561.1 414 565.4 415.3 569.4 416.3C573.3 417.2 577.4 418.2 580.7 420.9C583.9 423.7 587.4 430.7 588.8 432.7" stroke="#8a1580"/>
<path d="M551.3 497.6C553 495.2 556.5 485.6 561 483C565.5 480.5 573.3 480.9 578.2 482.3C583.2 483.7 587.2 487.9 590.9 491.5C594.5 495 598.3 498.7 600.2 503.6C602 508.4 603.8 515.9 602.1 520.8C600.3 525.8 594.4 531.2 589.6 533.2C584.8 535.1 578.3 533.7 573.4 532.6C568.4 531.5 564.1 529.6 559.9 526.6C555.8 523.6 550.4 516.5 548.5 514.5" stroke="#8a1580"/>
<path d="M545.7 457.6C543.4 456.7 535.8 454.2 531.7 452C527.5 449.7 523.7 447.4 520.6 444C517.5 440.7 513.5 436.1 513.1 432C512.7 427.8 514.9 422.1 518.2 419.3C521.5 416.4 528.3 415.3 533.2 414.9C538.1 414.5 542.9 415.9 547.6 417.1C552.3 418.3 557.3 419.5 561.3 422.2C565.3 424.9 570.4 429.3 571.6 433.4C572.9 437.5 569.2 444.5 568.7 446.7" stroke="#8a1580"/>
<path d="M628.6 512.8C626 512 617.1 510.9 613.4 508.2C609.6 505.5 607.8 500.6 606.1 496.5C604.3 492.5 602.8 488.5 603.1 484C603.3 479.5 604.3 473 607.5 469.6C610.8 466.1 617.8 463.2 622.6 463C627.4 462.9 632.7 466.1 636.5 468.6C640.3 471.1 643.1 474.2 645.5 477.9C647.9 481.6 651.1 486.4 650.8 491C650.6 495.6 645.2 502.9 644.1 505.3" stroke="#8a1580"/>
<path d="M626 479C624.4 479.4 619.4 481.1 616.3 480.9C613.3 480.8 610.4 479.4 607.8 478.3C605.2 477.1 602.9 475.9 600.5 474.1C598.2 472.3 595.5 470.5 593.7 467.7C591.9 465 590.1 461.2 589.9 457.7C589.7 454.3 590.7 449.9 592.5 447C594.2 444.1 597.5 441.8 600.3 440.4C603.1 439 606.3 438.8 609.2 438.6C612 438.4 616 439 617.4 439.1" stroke="#8a1580"/>
<path d="M612.2 428C615 428.4 623.9 428.9 628.5 430.4C633.2 432 636.7 434.8 640 437.2C643.4 439.6 646 442.1 648.5 445.1C651 448 653.9 451.2 654.9 455C655.9 458.7 656.4 463.6 654.6 467.4C652.7 471.2 648.4 475.6 643.9 478C639.4 480.5 632.7 481.7 627.4 482C622.2 482.3 616.9 481 612.3 480C607.7 478.9 601.9 476.4 599.9 475.7" stroke="#8a1580"/>
<path d="M659.5 522.1C657 524.6 648.9 534.9 644.1 537.1C639.3 539.3 634.1 537.1 630.6 535.2C627.1 533.3 624.8 530 622.9 525.9C621.1 521.7 618.6 516.4 619.6 510.3C620.5 504.2 624.4 494.5 628.5 489.3C632.7 484.1 639.8 480.8 644.5 479.4C649.2 477.9 653.1 479.3 656.8 480.6C660.6 482 665.1 483.3 666.9 487.6C668.8 491.9 667.7 503.1 667.8 506.2" stroke="#8a1580"/>
<path d="M703.5 491.3C703.9 493.3 706 499.4 706.3 503.6C706.6 507.9 707.1 513.2 705.1 516.9C703.2 520.5 698.7 524.7 694.6 525.5C690.5 526.2 684.2 523.9 680.3 521.5C676.4 519.1 673.6 514.8 671 511.1C668.4 507.4 665.9 503.7 664.8 499.4C663.7 495 662.7 488.8 664.4 485.1C666.1 481.3 671.1 477.6 675.2 476.7C679.3 475.8 686.7 479.3 689 479.8" stroke="#8a1580"/>
<path d="M712.3 504.6C711.5 506.8 710.2 514.6 707.5 517.8C704.9 521 700.2 523.3 696.6 524C692.9 524.7 688.9 523.2 685.6 522C682.3 520.8 679.7 518.9 676.9 516.7C674.1 514.5 671.1 512.4 669 509C666.9 505.6 664.6 500.8 664.4 496.4C664.2 492 665.6 486.2 667.9 482.6C670.1 479 674.4 476.3 677.8 474.7C681.3 473.2 686.7 473.7 688.4 473.5" stroke="#8a1580"/>
<path d="M661.6 475.3C663.5 475.8 669.5 476.5 673 478.1C676.5 479.6 680.5 481.2 682.6 484.6C684.6 488 686.5 494.1 685.3 498.7C684.1 503.3 679.3 509.1 675.5 512.2C671.7 515.2 666.7 516 662.5 516.8C658.3 517.6 654.2 518.2 650.4 517.1C646.6 515.9 641.5 513.8 639.8 510.1C638.1 506.4 638.4 499.3 640.2 494.8C642 490.3 649 485 650.7 483" stroke="#8a1580"/>
<path d="M687.5 514.7C690 515.3 698.6 515.6 702.5 518.3C706.3 521 708.9 526.8 710.7 531.1C712.4 535.4 712.9 539.5 713 544C713 548.4 713.3 553.9 711.1 557.7C708.9 561.5 704 565.8 699.7 566.6C695.3 567.4 688.9 564.9 685 562.4C681 559.8 678.4 555.4 676 551.5C673.5 547.6 671 543.7 670.2 539.2C669.3 534.7 670.8 526.9 670.9 524.4" stroke="#8a1580"/>
<path d="M711.3 571.1C710.4 569.2 707.2 564 706.3 559.7C705.4 555.4 704.3 549.9 706 545.5C707.7 541.1 712.1 535.6 716.4 533.5C720.8 531.3 727.4 531.6 731.9 532.5C736.4 533.5 740 536.5 743.4 539.1C746.9 541.6 750.2 544.2 752.4 548C754.6 551.8 757.1 557.3 756.4 561.8C755.8 566.4 752.2 572.5 748.4 575.4C744.6 578.4 736.1 578.9 733.6 579.6" stroke="#8a1580"/>
<path d="M734.4 554.8C733.2 553.2 729.2 549.1 727.4 545.4C725.5 541.6 723.2 537.1 723.2 532.2C723.3 527.3 724.7 520.4 727.6 515.8C730.6 511.1 736.4 506.5 741.1 504.2C745.8 502 751.4 502.1 755.8 502.4C760.2 502.7 763.8 504.3 767.5 505.9C771.1 507.5 775 508.9 777.9 512C780.8 515 784.2 519.2 784.9 524C785.5 528.8 782.4 537.8 781.9 540.6" stroke="#8a1580"/>
<path d="M806 545.8C805.6 548.2 805.3 556.2 803.3 560.5C801.2 564.7 797.2 568.6 793.9 571.2C790.7 573.8 787.2 574.8 783.9 575.9C780.6 577 777.5 577.9 774.2 577.8C771 577.8 766.9 577.5 764.3 575.3C761.8 573.1 759.2 568.7 758.9 564.5C758.5 560.2 760.1 554.1 762 549.9C763.9 545.7 767.4 542.1 770.2 539.1C773 536 777.6 533 779 531.8" stroke="#8a1580"/>
<path d="M802.4 496.7C803.9 497.3 808.9 498.1 811.7 500.1C814.5 502.2 817.7 505.4 819.1 509C820.4 512.5 820.7 517.6 819.9 521.3C819 525.1 816.3 528.8 813.9 531.3C811.5 533.9 808.4 535.3 805.6 536.8C802.7 538.2 800.1 539.3 797 539.9C793.9 540.5 790.4 541.4 787.1 540.6C783.8 539.8 779.7 537.9 777.4 535.1C775 532.3 773.7 525.7 772.9 523.8" stroke="#8a1580"/>
<path d="M791.2 540.3C791.9 542.3 794.4 548.2 795.4 552.1C796.3 556.1 797.5 560.2 797 564.1C796.5 567.9 795.2 572.9 792.4 575.1C789.5 577.3 784.1 578.2 780 577.2C775.9 576.3 771.2 572.5 767.9 569.4C764.5 566.4 762.3 562.7 759.9 559C757.6 555.4 755 551.5 754 547.4C753 543.2 752.4 537.5 754 534.2C755.6 530.8 762 528.5 763.6 527.3" stroke="#8a1580"/>
<path d="M804.3 579.9C801 578.1 790 573.4 784.2 569.3C778.5 565.2 774.1 560.4 770 555.2C766 550 760.6 543.4 759.7 538.1C758.9 532.7 760.8 525.7 765 523.3C769.1 520.9 778.1 522.2 784.4 523.8C790.6 525.4 796.7 529.3 802.6 533C808.4 536.8 815.2 540.9 819.4 546.2C823.6 551.5 828.2 559.9 827.7 564.8C827.3 569.7 818.5 573.6 816.6 575.4" stroke="#8a1580"/>
<path d="M478.5 452.7C478.5 450.2 476.5 441.8 478.3 437.7C480.1 433.6 485.4 429.6 489.4 428C493.4 426.3 498.3 427.2 502.4 427.7C506.5 428.3 510.4 429 514 431.3C517.5 433.5 522.3 437.1 523.7 441.3C525.1 445.5 524.5 452.4 522.5 456.4C520.5 460.4 515.4 463.4 511.6 465.4C507.8 467.4 503.9 468.1 499.8 468.4C495.6 468.7 488.9 467.4 486.7 467.3" stroke="url(#gDNA2)"/>
<path d="M461.1 556.4C459.8 554.8 455.1 550.8 453.8 546.7C452.5 542.6 451.7 536 453.3 531.6C455 527.2 459.9 522.4 463.7 520.3C467.5 518.3 472.3 518.9 476.2 519.2C480 519.6 483.5 520.4 486.8 522.4C490.1 524.5 494.5 527.4 495.9 531.5C497.3 535.6 497.2 542.6 495.4 547C493.6 551.3 488.7 555.2 485 557.5C481.4 559.9 475.5 560.5 473.6 561.1" stroke="url(#gDNA2)"/>
<path d="M481.2 496C483.3 496.9 490.4 499 493.8 501.4C497.2 503.7 499.4 507 501.6 509.9C503.7 512.9 505.6 515.7 506.8 519C508 522.3 509.6 526.3 509 529.8C508.4 533.3 506.3 537.7 503.2 539.9C500.1 542.2 494.6 543.4 490.4 543.4C486.1 543.4 481.4 541.4 477.6 539.7C473.9 538.1 471 535.8 468 533.5C465 531.2 461 527 459.6 525.7" stroke="url(#gDNA2)"/>
<path d="M467.3 546C467.6 544.3 467.4 538.9 468.8 536C470.1 533.1 472.2 529.4 475.5 528.4C478.8 527.4 484.4 528 488.5 530.1C492.7 532.1 497.2 536.9 500.2 540.7C503.2 544.4 504.7 548.7 506.3 552.6C507.9 556.5 509.3 560.3 509.7 564.1C510.1 567.9 510.4 572.8 508.6 575.6C506.8 578.3 502.7 580.6 498.9 580.5C495.1 580.4 487.8 575.8 485.6 574.9" stroke="url(#gDNA2)"/>
<path d="M516.4 464.1C518.8 463.9 525.9 461.3 530.6 463.2C535.4 465 541.3 470.5 545 475.2C548.7 480 551 486.5 552.8 491.7C554.7 497 555.5 501.7 556.1 506.7C556.7 511.8 557.6 517.6 556.4 522.1C555.2 526.6 552.6 531.9 548.8 533.7C545.1 535.5 538.7 534.8 534 532.7C529.2 530.5 524.1 525 520.3 520.6C516.6 516.2 513 508.6 511.5 506.2" stroke="url(#gDNA2)"/>
<path d="M511.5 462.9C512.1 459.6 512.3 448.5 514.7 443C517.2 437.5 522.3 432.3 526.2 429.7C530.1 427.1 534.4 427.4 538.1 427.5C541.7 427.5 545 428 548.3 429.9C551.5 431.8 555.6 434.2 557.5 438.8C559.3 443.3 560.3 451.3 559.3 457.3C558.2 463.4 554.2 470.7 551 475.1C547.7 479.5 543.3 481.7 539.6 483.9C535.9 486.1 530.4 487.4 528.6 488.1" stroke="url(#gDNA2)"/>
<path d="M562.3 436.4C564.3 435 570.5 429.3 574.5 427.9C578.5 426.5 582.7 427.4 586.2 428.1C589.6 428.7 592.4 429.9 595.1 431.8C597.8 433.7 601.2 435.9 602.4 439.4C603.5 442.8 603.7 448.4 602 452.5C600.3 456.6 595.6 461.3 592 463.9C588.3 466.5 583.8 467.2 580 468C576.2 468.8 572.8 469.1 569.3 468.5C565.8 468 560.7 465.4 559 464.8" stroke="url(#gDNA2)"/>
<path d="M620.8 488C620.2 486.5 618.2 481.8 617.6 478.8C617 475.9 617.1 473.2 617.2 470.3C617.3 467.4 617.3 464.5 618.3 461.6C619.4 458.8 620.9 455.4 623.3 453.3C625.8 451.1 629.6 449.3 633.1 449C636.5 448.7 640.8 449.9 643.9 451.5C647 453.1 649.6 456.1 651.6 458.6C653.6 461.1 654.8 463.8 656 466.5C657.3 469.2 658.5 473.4 659 474.8" stroke="url(#gDNA2)"/>
<path d="M606.6 474.6C605.1 473.2 600.5 469.5 598 466.1C595.4 462.7 592.3 458.9 591.3 454.3C590.4 449.6 590.1 443 592.1 438.2C594 433.4 598.7 428.2 602.8 425.6C607 423 612.7 422.5 617 422.5C621.4 422.4 625.2 423.7 629.1 425.1C632.9 426.4 636.9 427.6 640.2 430.4C643.5 433.1 647.5 437.2 648.8 441.8C650.1 446.4 648 455.4 647.9 458.1" stroke="url(#gDNA2)"/>
<path d="M675 513.5C673.1 512.6 666.8 510.2 663.3 507.8C659.7 505.4 655.8 502.9 653.6 499C651.4 495.1 649 488.9 649.9 484.5C650.8 480 655.2 474.7 659 472.3C662.8 469.9 668.4 470.1 672.7 470.2C677 470.3 681 471 684.9 472.8C688.9 474.7 694.2 477.3 696.3 481.3C698.5 485.3 699.4 492.2 698 496.6C696.6 500.9 689.6 505.5 688 507.3" stroke="url(#gDNA2)"/>
<path d="M667.6 535.2C664.6 533.5 654.5 529.5 649.8 524.8C645.1 520.1 642.1 513.2 639.2 507.1C636.3 501 633.3 494.8 632.5 488.3C631.8 481.7 631.6 472.5 634.5 467.9C637.5 463.3 644.7 460.4 650.1 460.8C655.5 461.3 662.1 466.5 667 470.5C671.9 474.5 675.9 479.1 679.7 484.8C683.4 490.4 688.3 497.6 689.4 504.2C690.5 510.9 686.9 521.3 686.4 524.7" stroke="url(#gDNA2)"/>
<path d="M631.3 542.5C631 539.7 628.2 531.2 629.4 525.7C630.6 520.1 633.7 512.1 638.3 509C643 505.8 651.7 505.3 657.1 506.7C662.6 508.1 667.2 513.3 671 517.4C674.9 521.4 678.3 525.6 680.2 531C682 536.4 683.9 544.4 682 549.7C680 555 673.5 561.1 668.2 563C662.9 564.9 655.7 562.8 650.4 561.2C645.1 559.6 638.7 554.6 636.4 553.3" stroke="url(#gDNA2)"/>
<path d="M691.7 489.2C694 489.4 701.2 489 705.7 490.5C710.2 491.9 715.7 493.3 718.7 497.7C721.8 502.1 724.9 510.6 724.2 517.1C723.5 523.6 718.6 532.2 714.6 536.9C710.6 541.6 705.1 543.6 700.3 545.5C695.5 547.4 690.5 549.4 685.8 548.5C681 547.5 674.4 544.9 671.9 539.9C669.3 534.9 669 524.9 670.5 518.4C672 511.9 679.1 503.8 680.8 500.9" stroke="url(#gDNA2)"/>
<path d="M679.4 500.7C679.5 499 679.1 493.7 680.1 490.7C681.1 487.6 682.5 484 685.5 482.3C688.5 480.7 693.4 479.8 697.9 480.8C702.5 481.8 708.4 485.1 712.7 488.3C717 491.6 720.6 496.4 723.5 500.3C726.3 504.2 728 508 729.8 511.9C731.6 515.7 733.4 519.5 734.3 523.3C735.1 527.2 735.9 531.9 734.7 535C733.5 538.2 728.3 541.1 727 542.3" stroke="url(#gDNA2)"/>
<path d="M747.8 554.2C746.4 555.5 742.7 560.9 739.5 561.9C736.3 562.8 731.6 561.8 728.7 559.9C725.7 557.9 723.5 553.5 721.9 550.1C720.4 546.8 719.9 543.2 719.4 539.5C718.9 535.9 718.2 531.9 718.9 528.2C719.6 524.4 721.2 519.5 723.8 517.1C726.3 514.6 730.9 513.2 734.2 513.6C737.5 514 741 517 743.6 519.4C746.1 521.8 748.4 526.6 749.4 528" stroke="url(#gDNA2)"/>
<path d="M817.1 547.2C816.9 549.4 817 556.2 816 560.7C815 565.3 814.2 570.6 811.3 574.4C808.4 578.3 803.4 582.8 798.6 583.9C793.9 584.9 787.1 583.3 782.9 580.8C778.7 578.3 775.7 572.9 773.4 568.8C771.1 564.6 770 560.4 769.2 555.8C768.3 551.2 767 546 768.2 541.2C769.3 536.5 772.1 530.2 776 527.3C779.9 524.4 788.9 524.3 791.5 523.7" stroke="url(#gDNA2)"/>
<path d="M803.7 541.6C805.4 543.2 810.8 547.9 813.4 551.5C816.1 555.2 819.2 559 819.9 563.4C820.5 567.8 820.3 574.3 817.4 578C814.5 581.7 807.7 584.8 802.6 585.5C797.5 586.2 791.6 583.9 787 582.2C782.4 580.5 778.5 578.3 775 575.2C771.4 572.1 766.7 568.1 765.6 563.7C764.5 559.3 765.4 552.6 768.2 548.9C771.1 545.2 780.3 542.8 782.7 541.6" stroke="url(#gDNA2)"/>
<path d="M810.3 551.1C812.7 552.4 820.8 555.8 824.7 558.6C828.6 561.5 831.5 564.5 833.8 568.1C836.1 571.7 839.1 576.3 838.5 580.4C837.8 584.5 834.4 590 829.9 592.6C825.4 595.1 817.2 595.9 811.5 595.7C805.8 595.5 800.5 593.2 795.7 591.3C790.9 589.4 786.2 587.5 782.6 584.4C779 581.2 774.5 576.7 774.1 572.6C773.8 568.4 779.4 561.8 780.4 559.6" stroke="url(#gDNA2)"/>
<path d="M792.5 584.1C789.9 584 781.4 584.8 777 583.4C772.6 582 769.4 578.6 766.1 575.5C762.9 572.5 759.6 569.5 757.5 565.1C755.4 560.6 752.9 554.6 753.4 548.9C753.9 543.2 756.8 535.5 760.5 531C764.2 526.6 770.7 523.5 775.6 522.2C780.4 520.8 785.2 522 789.6 522.8C794 523.6 798 524.6 801.8 527C805.6 529.4 810.8 535.5 812.6 537.2" stroke="url(#gDNA2)"/>
<path d="M458 539.7C457.1 537.9 453.6 533.3 452.4 528.5C451.2 523.8 450.3 517.1 450.9 511.3C451.5 505.5 453.7 498.3 456.1 493.8C458.5 489.4 462.3 486.2 465.3 484.4C468.4 482.6 471.5 482.6 474.4 483C477.2 483.4 480.2 484.4 482.6 486.9C485 489.5 487.8 493.5 488.8 498.5C489.9 503.4 490.1 511 489.1 516.7C488.1 522.4 485.4 528.6 483 532.9C480.5 537.1 475.9 540.5 474.4 542.1" stroke="url(#gDNA)"/>
<path d="M462.4 467.7C461.5 466.6 457 463.5 456.8 461.1C456.5 458.6 458 455.4 460.8 452.9C463.5 450.4 468.6 447.9 473.2 446.1C477.9 444.4 483.6 443.2 488.7 442.3C493.8 441.4 498.8 440.9 503.9 440.7C508.9 440.5 514.2 440.4 518.9 441C523.6 441.7 528.8 442.7 531.9 444.4C535 446.2 537.4 448.8 537.6 451.3C537.8 453.8 535.8 456.9 533.2 459.4C530.5 461.9 523.7 464.9 521.8 466.1" stroke="url(#gDNA)"/>
<path d="M502.6 419.3C504.3 417.3 508.6 409.9 512.4 407.2C516.3 404.5 521.3 403.7 525.6 403.3C530 402.9 534.4 403.3 538.6 404.8C542.8 406.4 547.7 408.6 550.8 412.4C553.8 416.1 556.6 422.2 557 427.3C557.3 432.4 555.2 438.7 552.8 442.9C550.3 447.2 546 450.3 542.2 452.7C538.4 455 534.2 456.6 529.9 457.2C525.5 457.8 520.2 458 516 456.1C511.8 454.2 506.6 447.4 504.7 445.7" stroke="url(#gDNA)"/>
<path d="M524.7 528.5C525.9 531.3 530.4 539 531.6 545.4C532.8 551.9 533.8 560.2 532.1 567.2C530.4 574.1 526 582.9 521.4 587.2C516.9 591.6 509.8 593.2 504.7 593.1C499.6 592.9 494.9 589.7 490.9 586.4C486.8 583 482.8 578.7 480.6 572.9C478.4 567.1 476.4 558.5 477.5 551.4C478.5 544.3 482.6 535.2 486.8 530.3C491 525.3 497.5 522.8 502.6 521.5C507.8 520.3 515 522.7 517.5 522.9" stroke="url(#gDNA)"/>
<path d="M572 477.8C570 478.5 563.9 481.6 559.9 481.7C555.9 481.8 551.5 480.1 547.9 478.5C544.3 476.8 541.2 474.5 538.5 471.8C535.8 469.1 532.8 465.9 531.5 462.3C530.2 458.6 529.6 453.7 530.7 450.2C531.9 446.6 535.2 442.8 538.5 440.7C541.8 438.7 546.5 438.1 550.4 437.9C554.4 437.8 558.2 438.7 561.9 440C565.6 441.2 569.6 442.8 572.5 445.4C575.5 448 578.7 453.9 579.9 455.6" stroke="url(#gDNA)"/>
<path d="M543.2 528.3C542.1 525.3 537.9 516.2 536.6 510.3C535.4 504.4 535 497.5 535.6 492.7C536.3 488 538.3 484.1 540.4 481.7C542.4 479.2 545.2 478.4 547.9 477.9C550.6 477.4 553.5 477.7 556.5 478.9C559.6 480 563 481.5 566.2 484.7C569.5 487.8 573.3 492.4 576 497.6C578.7 502.8 581.3 510 582.5 515.9C583.8 521.8 583.8 528.3 583.3 533.1C582.8 537.9 580.2 542.7 579.5 544.6" stroke="url(#gDNA)"/>
<path d="M581.9 529.2C583.2 529 586.8 527.6 589.4 527.9C591.9 528.2 594.7 528.9 597.3 531C599.9 533.1 603.1 536.4 605.1 540.7C607.1 544.9 609 551.4 609.4 556.5C609.9 561.6 609.1 567.3 608 571.3C606.9 575.2 604.9 578.1 602.9 580.3C600.9 582.6 598.7 584.2 596.3 584.8C593.8 585.4 590.8 585.8 588.1 584.1C585.4 582.4 582 578.8 579.9 574.6C577.9 570.4 576.4 561.5 575.7 558.9" stroke="url(#gDNA)"/>
<path d="M605.9 572C605.7 573.3 605.6 577.5 604.2 579.8C602.7 582.1 600 584.4 597 585.9C594 587.4 589.8 588.3 586 588.6C582.2 589 577.8 588.6 574 587.9C570.2 587.3 566.5 586.1 563.1 584.9C559.7 583.7 556.5 582.2 553.5 580.6C550.5 579 547.5 577.2 545 575.1C542.4 572.9 539.9 570.5 538.4 567.9C536.9 565.3 535.9 562.3 536.1 559.7C536.3 557 539 553.3 539.6 552.1" stroke="url(#gDNA)"/>
<path d="M574.4 551.4C572.1 550.7 564.6 549.3 560.6 547.1C556.6 544.9 553.2 541.7 550.3 538C547.4 534.3 544.5 530 543.2 524.9C542 519.8 541.4 513 542.9 507.4C544.4 501.9 548.3 495.4 552.3 491.4C556.4 487.5 562.3 484.9 567.2 483.7C572.1 482.5 577.1 483.1 581.6 483.9C586.1 484.8 590.4 486.3 594.2 488.9C598 491.6 602.2 495.1 604.4 499.8C606.6 504.4 606.7 514 607.2 516.8" stroke="url(#gDNA)"/>
<path d="M611.5 464.7C611.4 461.2 608.8 449.8 610.5 443.8C612.3 437.7 617.6 432 622.3 428.6C626.9 425.2 632.9 424 638.4 423.3C643.9 422.7 649.8 422.7 655.3 424.7C660.8 426.6 667.5 430.1 671.4 435.2C675.2 440.2 678.3 448.6 678.4 455.1C678.5 461.5 675.3 468.8 672.1 473.8C668.9 478.9 664 482.4 659.2 485.2C654.4 488 649 490.5 643.3 490.7C637.7 491 628.2 487.3 625.2 486.6" stroke="url(#gDNA)"/>
<path d="M691.7 475.5C692.3 478.6 695.8 487.6 695.4 493.9C695 500.2 693.2 508.3 689.3 513.5C685.5 518.7 678.5 523.5 672.5 525.3C666.4 527 659 525.8 653.3 524.1C647.6 522.4 642.6 518.8 638.1 515C633.7 511.2 629.2 506.7 626.6 501.2C623.9 495.6 621.5 488.1 622.2 481.7C622.9 475.3 626.4 467.3 630.8 462.6C635.1 457.8 642.4 454.7 648.4 453.2C654.3 451.7 663.4 453.5 666.4 453.6" stroke="url(#gDNA)"/>
<path d="M608.4 497.7C606.9 496.8 602.2 494.5 599.4 491.9C596.7 489.3 593.8 486.2 591.9 482.2C590.1 478.2 588.4 472.6 588.5 467.8C588.5 462.9 590 457 592.2 453.1C594.3 449.2 598 446.2 601.2 444.5C604.4 442.7 608 442.4 611.3 442.3C614.6 442.3 618 442.8 621.2 444.4C624.3 446 628 448.3 630.4 451.8C632.8 455.3 635 460.7 635.5 465.5C636 470.3 633.8 478.1 633.4 480.6" stroke="url(#gDNA)"/>
<path d="M638.8 559.3C640 555.7 641.9 543.1 646.1 537.6C650.2 532.1 657.5 528.5 663.7 526.1C669.9 523.7 676.5 522.8 683.1 523.2C689.8 523.6 697.6 524.7 703.5 528.4C709.4 532.2 716.1 539.2 718.6 546C721.1 552.7 720.6 562.4 718.5 569.1C716.4 575.8 711 581.7 706.1 586.2C701.2 590.8 695.5 594.2 689.3 596.3C683 598.4 675.2 600.3 668.5 598.8C661.7 597.2 652.1 589 648.8 587.1" stroke="url(#gDNA)"/>
<path d="M656.5 572C654.2 573.4 647.1 579 642.6 580.1C638 581.2 633.1 580.1 629.3 578.7C625.5 577.2 622.5 574.4 619.8 571.4C617.1 568.4 614.6 565 613.3 560.7C611.9 556.4 610.8 550.9 611.7 545.7C612.6 540.6 615.2 534 618.5 529.7C621.8 525.4 627.2 521.6 631.6 519.7C636.1 517.7 640.9 517.6 645.1 517.8C649.2 518.1 653 519.3 656.5 521.1C660 523 664.4 527.7 666 529" stroke="url(#gDNA)"/>
<path d="M715.9 449.3C717.5 448.3 722.5 444.2 725.5 443.3C728.6 442.4 731.5 442.8 734.2 443.9C737 445.1 740 446.8 742 450.3C744 453.7 745.9 459.3 746.1 464.8C746.3 470.4 745 478 743.3 483.3C741.5 488.7 738.2 493.5 735.4 497C732.6 500.4 729.5 502.5 726.5 504C723.5 505.5 720.2 506.7 717.3 505.9C714.3 505.1 710.9 503 709 499.2C707.2 495.4 706.6 485.8 706.1 483.1" stroke="url(#gDNA)"/>
<path d="M737.8 534.4C738.7 536.8 742.8 543.9 743.2 548.8C743.6 553.6 742.4 559.7 740 563.5C737.6 567.4 733 570.3 729 571.8C725 573.2 720.2 572.8 716 572.2C711.8 571.6 707.7 570.2 703.7 568.1C699.8 565.9 695.3 563 692.4 559.1C689.5 555.1 686.7 549.3 686.2 544.5C685.8 539.6 687.3 533.6 689.5 529.7C691.7 525.8 695.9 523 699.5 521C703.2 519.1 709.5 518.5 711.4 518" stroke="url(#gDNA)"/>
<path d="M740.2 530.7C740.1 527.3 737.5 516.6 739.2 510.3C740.9 504.1 745.7 496.9 750.4 493C755 489.1 761.6 487.6 766.9 486.9C772.2 486.2 777.4 487.2 782.3 489.1C787.2 490.9 792.6 493.6 796.1 498.1C799.5 502.7 802.7 510 802.8 516.4C803 522.8 800.1 531.1 796.7 536.5C793.4 541.8 787.6 545.8 782.6 548.6C777.7 551.4 772.4 552.9 767.1 553.2C761.8 553.6 753.6 551.1 750.9 550.7" stroke="url(#gDNA)"/>
<path d="M806.4 494.6C809.1 495.9 818.1 498.3 823 502C827.9 505.7 832.1 511 835.6 516.9C839.2 522.8 842.9 529.8 844.3 537.1C845.7 544.5 846.1 554.5 843.9 561C841.8 567.6 836.4 573.8 831.6 576.5C826.8 579.2 820.2 578.5 814.9 577.2C809.6 576 804.5 573 799.8 569C795.1 565 789.8 559.9 786.7 553.3C783.6 546.7 780.9 537 781.2 529.5C781.6 522.1 787.5 512.3 788.7 508.9" stroke="url(#gDNA)"/>
<path d="M778.1 611.3C775.9 610.6 769 609.3 765.3 607.2C761.7 605 758.6 602 756.1 598.3C753.6 594.6 751 590.1 750.5 585.1C749.9 580 750.4 573.2 752.6 568.1C754.8 563.1 759.6 557.8 763.8 555C768 552.1 773.5 551.2 777.9 550.9C782.4 550.6 786.6 551.6 790.5 553.2C794.4 554.8 798.6 556.9 801.3 560.5C804.1 564.1 806.9 569.5 807.1 574.7C807.4 579.8 803.6 588.8 802.9 591.6" stroke="url(#gDNA)"/>
<path d="M775.6 577.2C775.6 574.9 774.5 567.1 775.7 563.3C776.9 559.5 780 556.3 782.9 554.2C785.8 552.1 789.3 551.2 792.8 550.7C796.3 550.2 800.1 549.9 803.9 551C807.7 552.1 812.3 554 815.6 557.2C818.9 560.3 822.2 565.4 823.5 569.8C824.8 574.2 824.5 579.6 823.6 583.5C822.6 587.4 820.2 590.6 817.8 593.3C815.5 595.9 812.7 598 809.5 599.3C806.3 600.7 800.3 600.9 798.4 601.2" stroke="url(#gDNA)"/>
<path d="M754.9 532.7C756.1 533.3 760 534.2 762.3 536.3C764.7 538.3 767.3 541.4 768.8 545.1C770.3 548.9 771.4 554.3 771.4 558.9C771.4 563.4 770.2 568.7 768.8 572.5C767.4 576.3 765.1 579.3 762.9 581.7C760.8 584.1 758.4 585.7 756 586.8C753.6 588 751 589 748.3 588.6C745.7 588.3 742.6 587.3 740.3 584.9C738 582.5 735.7 578.3 734.6 574.2C733.4 570 733.7 562.4 733.6 560" stroke="url(#gDNA)"/>
</g>
<path d="M533 360C529.5 362.7 519.8 367.3 512 376C504.2 384.7 493.3 399.7 486 412C478.7 424.3 473 436 468 450C463 464 458.8 480.3 456 496C453.2 511.7 451.7 530.7 451 544C450.3 557.3 451.2 565.7 452 576C452.8 586.3 455.3 601 456 606L500 612L500 612C496.3 603.3 481.7 578.7 478 560C474.3 541.3 475.2 520 478 500C480.8 480 486.3 457.5 495 440C503.7 422.5 519.2 404.7 530 395C540.8 385.3 555 384.2 560 382Z" fill="#ffffff" opacity="0.13" clip-path="url(#cCyto)"/>
<g id="flagellum">
<path d="M1033.3 615.7L1039.2 614L1045.8 611.9L1052.5 609.6L1059.2 607.2L1066 604.8L1072.7 602.2L1079.2 599.8L1086 597.3L1092.8 594.7L1099.5 592.1L1106.2 589.4L1113 586.7L1119.7 584.1L1126.4 581.4L1133 578.7L1139.7 576.1L1146.3 573.5L1152.9 571L1159.5 568.6L1166.1 566.3L1172.7 564.1L1179.2 562L1185.7 560.1L1192.2 558.3L1198.6 556.6L1205.1 555.1L1211.5 553.7L1217.8 552.4L1224.1 551.3L1230.4 550.4L1236.6 549.5L1242.7 548.8L1248.7 548.3L1254.6 547.8L1260.4 547.4L1266.2 547.2L1271.8 547.1L1277.4 547.1L1282.8 547.3L1288.1 547.5L1293.3 547.8L1298.5 548.2L1303.6 548.6L1308.6 549.1L1313.5 549.7L1318.4 550.4L1323.3 551.3L1328.1 552.2L1332.9 553.3L1337.7 554.5L1342.5 555.9L1347.2 557.4L1352 559.1L1356.8 560.9L1361.6 563L1366.3 565.2L1371.1 567.5L1375.9 570.1L1380.7 572.9L1385.5 575.9L1390.3 579.1L1395 582.4L1399.8 586L1404.5 589.8L1409.2 593.8L1413.8 598L1418.3 602.3L1422.8 606.7L1427.1 611.3L1431.4 616L1435.5 620.8L1439.4 625.7L1443.1 630.6L1446.6 635.6L1449.9 640.6L1453 645.6L1455.9 650.5L1458.6 655.4L1461 660.3L1463.2 665.1L1465.2 669.9L1466.9 674.7L1468.5 679.5L1469.8 684.2L1470.8 688.9L1471.7 693.7L1472.3 698.5L1472.8 703.4L1473 708.2L1473.1 713.2L1473 718.2L1472.6 723.2L1472.1 728.3L1471.4 733.4L1470.5 738.6L1469.3 743.8L1468 749L1466.4 754.2L1464.7 759.5L1462.7 764.7L1460.6 769.9L1458.2 775.1L1455.6 780.2L1452.8 785.3L1449.7 790.4L1446.5 795.5L1443.1 800.5L1439.5 805.4L1435.8 810.3L1431.8 815.2L1427.8 819.9L1423.6 824.6L1419.2 829.2L1414.8 833.7L1410.2 838.1L1405.6 842.3L1400.9 846.4L1396.2 850.3L1391.4 854.2L1386.5 857.8L1381.7 861.4L1376.8 864.8L1372 868L1367.1 871.2L1362.2 874.1L1357.3 877L1352.4 879.7L1347.5 882.3L1342.5 884.7L1337.5 887.1L1332.6 889.3L1327.6 891.4L1322.5 893.5L1317.5 895.5L1312.4 897.4L1307.3 899.2L1302.1 900.9L1296.9 902.6L1291.6 904.2L1286.4 905.7L1281.1 907.2L1275.7 908.7L1270.3 910L1264.9 911.4L1259.5 912.6L1254 913.9L1248.6 915.1L1243.1 916.3L1237.6 917.4L1232.1 918.5L1226.6 919.6L1221.1 920.6L1215.6 921.6L1210.1 922.6L1204.6 923.6L1199.1 924.5L1193.6 925.5L1188.1 926.3L1182.6 927.2L1177 928L1171.5 928.8L1166 929.6L1160.5 930.4L1154.9 931.1L1149.4 931.7L1143.9 932.4L1138.3 933L1132.8 933.6L1127.2 934.1L1121.7 934.6L1116.1 935.1L1110.6 935.6L1105 936L1099.5 936.4L1093.9 936.8L1088.4 937.1L1082.8 937.4L1077.3 937.7L1071.7 937.9L1066.2 938.1L1060.7 938.3L1055.1 938.5L1049.6 938.6L1044 938.8L1038.5 938.9L1033 938.9L1027.4 939L1021.9 939L1016.4 939L1010.8 939L1005.3 939L999.7 938.9L994.2 938.9L988.6 938.8L983.1 938.7L977.5 938.6L972 938.5L966.4 938.3L960.9 938.1L955.3 937.9L949.8 937.7L944.2 937.5L938.7 937.3L933.2 937L927.6 936.8L922.1 936.5L916.5 936.2L911 935.9L905.4 935.5L899.9 935.2L894.3 934.8L888.8 934.4L883.2 934L877.7 933.5L872.1 933.1L866.6 932.6L861.1 932.1L855.5 931.6L850 931L844.4 930.5L838.9 929.9L833.4 929.3L827.9 928.6L822.3 928L816.8 927.3L811.3 926.6L805.7 925.9L800.2 925.1L794.7 924.4L789.1 923.6L783.6 922.8L778.1 922L772.5 921.2L767 920.3L761.4 919.5L755.8 918.6L750.3 917.7L744.7 916.8L739.1 915.9L733.6 914.9L728 914L722.4 913L716.9 912L711.3 911L705.7 909.9L700.1 908.9L694.6 907.8L689 906.7L683.4 905.6L677.9 904.5L672.3 903.3L666.8 902.1L661.2 901L655.7 899.7L650.2 898.5L644.7 897.3L639.2 896L633.7 894.7L628.3 893.5L622.8 892.2L617.4 890.9L612 889.6L606.6 888.3L601.3 887L596 885.7L590.6 884.4L585.3 883L580 881.7L574.7 880.4L569.6 879L564.3 877.8L559 876.5L553.8 875.2L548.6 874L543.4 872.7L538.8 871.6L538.6 872.4L543.2 873.8L548.2 875.3L553.4 876.8L558.5 878.3L563.7 879.8L568.9 881.3L574.1 882.8L579.4 884.2L584.6 885.6L589.9 887.1L595.2 888.5L600.5 889.9L605.9 891.3L611.2 892.7L616.6 894.1L622 895.5L627.4 896.9L632.9 898.2L638.3 899.6L643.8 900.9L649.3 902.2L654.9 903.4L660.4 904.7L665.9 906L671.5 907.2L677 908.4L682.6 909.6L688.2 910.8L693.7 912L699.3 913.1L704.9 914.2L710.5 915.3L716 916.4L721.6 917.4L727.2 918.4L732.8 919.5L738.3 920.5L743.9 921.5L749.5 922.4L755 923.4L760.6 924.3L766.2 925.2L771.7 926.2L777.3 927L782.8 927.9L788.4 928.8L793.9 929.6L799.5 930.4L805 931.2L810.6 932L816.1 932.7L821.6 933.4L827.2 934.1L832.7 934.8L838.3 935.5L843.8 936.1L849.4 936.8L854.9 937.4L860.5 937.9L866.1 938.5L871.6 939L877.2 939.5L882.8 940L888.3 940.5L893.9 940.9L899.5 941.4L905 941.8L910.6 942.1L916.2 942.5L921.7 942.9L927.3 943.2L932.8 943.5L938.4 943.8L944 944.1L949.5 944.3L955.1 944.6L960.6 944.8L966.2 945L971.8 945.2L977.4 945.4L982.9 945.6L988.5 945.7L994.1 945.8L999.6 945.9L1005.2 946L1010.8 946.1L1016.3 946.2L1021.9 946.2L1027.5 946.2L1033 946.2L1038.6 946.2L1044.2 946.2L1049.7 946.1L1055.3 946L1060.9 945.9L1066.4 945.7L1072 945.6L1077.6 945.4L1083.2 945.2L1088.8 944.9L1094.4 944.7L1100 944.4L1105.6 944.1L1111.2 943.7L1116.8 943.3L1122.4 942.9L1128 942.4L1133.6 941.9L1139.2 941.4L1144.8 940.9L1150.4 940.3L1156 939.7L1161.5 939L1167.1 938.3L1172.7 937.6L1178.3 936.9L1183.9 936.2L1189.5 935.4L1195 934.6L1200.6 933.7L1206.2 932.8L1211.7 931.9L1217.3 931L1222.8 930L1228.4 929.1L1234 928L1239.5 927L1245.1 925.9L1250.6 924.8L1256.2 923.6L1261.7 922.4L1267.2 921.2L1272.7 919.9L1278.2 918.6L1283.7 917.2L1289.2 915.8L1294.6 914.3L1300 912.7L1305.4 911.1L1310.7 909.4L1316 907.6L1321.3 905.7L1326.5 903.7L1331.8 901.6L1337 899.4L1342.1 897.1L1347.3 894.6L1352.4 892.1L1357.6 889.4L1362.7 886.6L1367.8 883.7L1373 880.7L1378.1 877.5L1383.2 874.2L1388.3 870.8L1393.4 867.2L1398.5 863.4L1403.5 859.5L1408.5 855.4L1413.5 851.2L1418.4 846.9L1423.2 842.4L1427.9 837.8L1432.5 833L1437 828.1L1441.4 823.2L1445.6 818.1L1449.6 813L1453.4 807.7L1457.1 802.4L1460.5 797.1L1463.8 791.6L1466.8 786.1L1469.6 780.6L1472.2 775.1L1474.7 769.5L1476.9 763.9L1478.8 758.3L1480.6 752.6L1482.2 747L1483.5 741.3L1484.6 735.7L1485.5 730.1L1486.1 724.5L1486.6 718.9L1486.8 713.4L1486.7 707.9L1486.5 702.4L1486 697L1485.3 691.6L1484.3 686.2L1483.2 680.9L1481.8 675.6L1480.2 670.3L1478.3 664.9L1476.2 659.6L1473.9 654.3L1471.3 648.9L1468.5 643.6L1465.5 638.2L1462.2 632.8L1458.7 627.4L1455.1 622.1L1451.2 616.7L1447.1 611.4L1442.9 606.2L1438.6 601.1L1434.1 596L1429.4 591.1L1424.7 586.4L1419.8 581.9L1414.8 577.5L1409.8 573.4L1404.7 569.4L1399.6 565.7L1394.5 562.1L1389.3 558.8L1384.1 555.7L1378.9 552.8L1373.7 550.1L1368.5 547.6L1363.3 545.3L1358 543.2L1352.8 541.3L1347.6 539.5L1342.4 537.9L1337.1 536.4L1331.9 535.2L1326.6 534L1321.3 533L1316 532.2L1310.7 531.4L1305.3 530.8L1299.8 530.3L1294.3 530L1288.7 529.8L1283.1 529.8L1277.3 529.8L1271.5 530L1265.6 530.2L1259.6 530.5L1253.4 530.8L1247.2 531.3L1240.9 531.9L1234.4 532.7L1227.9 533.5L1221.4 534.6L1214.7 535.7L1208 537L1201.3 538.5L1194.5 540.1L1187.8 541.8L1181 543.7L1174.2 545.8L1167.4 548L1160.6 550.2L1153.8 552.6L1147 555.1L1140.3 557.7L1133.5 560.3L1126.8 562.9L1120.1 565.6L1113.3 568.3L1106.7 571L1100 573.6L1093.3 576.3L1086.6 578.9L1080 581.4L1073.3 583.9L1066.8 586.3L1060.1 588.8L1053.5 591.2L1046.9 593.5L1040.5 595.8L1034.2 597.7L1028.7 599.3Z" fill="url(#gFlag)"/>
<path d="M1114 569.9L1120.7 567.2L1127.4 564.5L1134.1 561.9L1140.9 559.3L1147.6 556.7L1154.4 554.2L1161.1 551.8L1167.9 549.6L1174.7 547.4L1181.4 545.4L1188.2 543.5L1195 541.7L1201.7 540.1L1208.4 538.7L1215 537.4L1221.6 536.2L1228.2 535.2L1234.7 534.4L1241 533.6L1247.3 533L1253.5 532.5L1259.6 532.2L1265.6 531.9L1271.5 531.7L1277.3 531.5L1283.1 531.5L1288.7 531.6L1294.2 531.8L1299.7 532.1L1305.1 532.6L1310.5 533.2L1315.8 533.9L1321 534.8L1326.3 535.7L1331.5 536.9L1336.7 538.1L1341.9 539.6L1347.1 541.1L1352.3 542.9L1352.3 542.9L1346.5 542.8L1341.2 542L1335.9 541.1L1330.7 540.3L1325.5 539.6L1320.3 539L1315.1 538.5L1309.9 538.1L1304.6 537.8L1299.3 537.6L1293.9 537.4L1288.5 537.4L1283 537.4L1277.3 537.5L1271.7 537.6L1265.9 537.9L1260 538.2L1254 538.6L1247.9 539.1L1241.7 539.7L1235.4 540.4L1229.1 541.2L1222.6 542.2L1216.1 543.2L1209.6 544.4L1202.9 545.7L1196.3 547.1L1189.6 548.7L1182.9 550.4L1176.1 552.2L1169.4 554.1L1162.6 556.1L1155.8 558.2L1148.9 560.3L1142.1 562.5L1135.2 564.6L1128.3 566.8L1121.3 568.8L1114 569.9Z" fill="#d3d3d6"/>
<path d="M1392 566L1397 569.4L1402 573.1L1407 576.9L1411.9 581L1416.8 585.2L1421.6 589.6L1426.3 594.3L1430.9 599L1435.4 603.9L1439.7 608.9L1443.9 614.1L1447.9 619.2L1451.7 624.5L1455.4 629.7L1458.8 635L1462 640.3L1465 645.5L1467.7 650.8L1470.3 656L1472.6 661.2L1474.6 666.3L1476.5 671.5L1478.1 676.7L1479.4 681.8L1480.6 687L1481.5 692.2L1482.2 697.4L1482.7 702.7L1482.9 708L1482.9 713.3L1482.8 718.7L1482.3 724.1L1481.7 729.6L1480.9 735.1L1479.8 740.6L1478.6 746.1L1477.1 751.6L1475.4 757.1L1473.5 762.6L1471.3 768.1L1469 773.6L1466.4 779.1L1463.7 784.5L1460.7 789.9L1457.5 795.2L1454.1 800.5L1450.5 805.7L1446.8 810.9L1442.8 815.9L1438.7 820.9L1434.4 825.9L1430 830.7L1425.5 835.4L1420.8 839.9L1416.1 844.4L1411.3 848.7L1406.4 852.9L1401.5 856.9L1396.5 860.8L1391.5 864.6L1386.5 868.2L1381.4 871.6L1376.4 874.9L1371.3 878L1366.3 881L1361.2 883.9L1356.1 886.7L1351 889.3L1346 891.8L1340.9 894.3L1335.7 896.6L1330.6 898.7L1325.4 900.8L1320.2 902.8L1315 904.7L1309.7 906.5L1304.4 908.2L1299.1 909.9L1293.8 911.5L1288.4 913L1283 914.4L1277.5 915.8L1272.1 917.2L1266.6 918.4L1261.1 919.7L1255.6 920.9L1250.1 922.1L1244.5 923.2L1239 924.3" fill="none" stroke="#9b9b9f" stroke-width="1.6" stroke-linecap="round" opacity="0.8"/>
<path d="M1478 746L1476.6 751.5L1474.9 757L1473 762.5L1470.9 768L1468.5 773.4L1466 778.8L1463.2 784.2L1460.2 789.6L1457.1 794.9L1453.7 800.2L1450.1 805.4L1446.4 810.6L1442.4 815.6L1438.3 820.6L1434.1 825.5L1429.7 830.3L1425.1 835L1420.5 839.6L1415.8 844.1L1411 848.4L1406.1 852.5L1401.2 856.6L1396.2 860.5L1391.2 864.2L1386.2 867.8L1381.2 871.2L1376.1 874.5L1371.1 877.7L1366 880.7L1361 883.5L1355.9 886.3L1350.8 888.9L1345.8 891.5L1340.7 893.9L1335.6 896.1" fill="none" stroke="#d0d0d3" stroke-width="1.8" stroke-linecap="round" opacity="0.9"/>
<g fill="#707075">
<rect x="940" y="593.5" width="15" height="11" rx="5"/>
<path d="M951.5 586Q949.5 599 951.5 612.5L956 612Q954 599 956.5 586.5Z" fill="#626267"/>
<rect x="955" y="597.5" width="13" height="9.5"/>
<path d="M964.5 590Q974 589.5 983 592Q981 605 982.5 619Q972 619.5 963 616Q966 603 964.5 590Z" fill="#6b6b70"/>
<path d="M964.5 590Q974 589.5 983 592L982.6 596Q974 593.5 964.8 594Z" fill="#85858a"/>
<rect x="981" y="601" width="15" height="9.5"/>
<path d="M996 596Q1016 593 1034 595.5Q1037 609 1037.5 622Q1014 626 992 622.5Q997 609 996 596Z" fill="#66666b"/>
<path d="M996 596Q1016 593 1034 595.5L1034.8 600Q1016 597.5 996.3 600.5Z" fill="#818186"/>
</g>
</g>
<g id="pili-shadows" clip-path="url(#cBody)">
<path d="M243.1 276.9L248.9 285.1Q221.8 298.7 202 311Z" fill="url(#gSh)"/>
<path d="M144.1 367.9L149.9 376.1Q122.8 389.7 103 402Z" fill="url(#gSh)"/>
<path d="M91.1 465.9L96.9 474.1Q69.8 487.7 50 500Z" fill="url(#gSh)"/>
<path d="M129.1 591.9L134.9 600.1Q107.8 613.7 88 626Z" fill="url(#gSh)"/>
<path d="M235.1 636.9L240.9 645.1Q213.8 658.7 194 671Z" fill="url(#gSh)"/>
<path d="M296.1 672.9L301.9 681.1Q274.8 694.7 255 707Z" fill="url(#gSh)"/>
<path d="M272.1 535.9L277.9 544.1Q250.8 557.7 231 570Z" fill="url(#gSh)"/>
<path d="M413.1 692.9L418.9 701.1Q391.8 714.7 372 727Z" fill="url(#gSh)"/>
<path d="M573.1 707.9L578.9 716.1Q551.8 729.7 532 742Z" fill="url(#gSh)"/>
<path d="M711.1 713.9L716.9 722.1Q689.8 735.7 670 748Z" fill="url(#gSh)"/>
<path d="M838.7 756.9L844.5 765.1Q817.4 778.7 797.6 791Z" fill="url(#gSh)"/>
<path d="M879.1 706.9L884.9 715.1Q857.8 728.7 838 741Z" fill="url(#gSh)"/>
<path d="M920.1 759.9L925.9 768.1Q898.8 781.7 879 794Z" fill="url(#gSh)"/>
<path d="M1028.1 550.9L1033.9 559.1Q1006.8 572.7 987 585Z" fill="url(#gSh)"/>
<path d="M981.1 452.9L986.9 461.1Q959.8 474.7 940 487Z" fill="url(#gSh)"/>
<path d="M769.1 341.9L774.9 350.1Q747.8 363.7 728 376Z" fill="url(#gSh)"/>
<path d="M409.1 300.9L414.9 309.1Q387.8 322.7 368 335Z" fill="url(#gSh)"/>
<path d="M326.1 412.9L331.9 421.1Q304.8 434.7 285 447Z" fill="url(#gSh)"/>
<path d="M236.1 419.9L241.9 428.1Q214.8 441.7 195 454Z" fill="url(#gSh)"/>
<path d="M179.1 503.9L184.9 512.1Q157.8 525.7 138 538Z" fill="url(#gSh)"/>
<path d="M349.1 589.9L354.9 598.1Q327.8 611.7 308 624Z" fill="url(#gSh)"/>
<path d="M994.1 686.9L999.9 695.1Q972.8 708.7 953 721Z" fill="url(#gSh)"/>
<path d="M1035.1 628.9L1040.9 637.1Q1013.8 650.7 994 663Z" fill="url(#gSh)"/>
<path d="M886.1 371.9L891.9 380.1Q864.8 393.7 845 406Z" fill="url(#gSh)"/>
<path d="M471.1 345.9L476.9 354.1Q449.8 367.7 430 380Z" fill="url(#gSh)"/>
<path d="M371.1 499.9L376.9 508.1Q349.8 521.7 330 534Z" fill="url(#gSh)"/>
</g>
<g id="pili-front">
<circle cx="244" cy="281" r="4.8" fill="#56391d"/><path d="M248.8 279.8L246.9 272.5L244.7 265.3L242.2 258.4L239.3 251.6L236.2 245.1L232.8 238.8L229.1 232.8L225.1 226.9L220.9 221.4L216.4 216L211.5 211L206.4 206.2L201 201.7L195.1 197.9L194.9 198.1L199.3 203.6L203.7 208.9L207.9 214.2L211.8 219.6L215.6 225.2L219.1 230.9L222.4 236.7L225.4 242.7L228.3 248.9L230.9 255.2L233.3 261.7L235.4 268.3L237.4 275.1L239.2 282.2Z" fill="#56391d"/><path d="M246.1 280.5L244.2 273.2L242.1 266.2L239.7 259.3L236.9 252.6L234 246.2L230.7 239.9L227.2 233.9L223.4 228.1L219.4 222.5L215.1 217.1L210.5 211.9L205.6 207L200.5 202.3L195 198L195 198L199.8 203L204.5 208.1L208.9 213.3L213.1 218.6L217.1 224.1L220.8 229.8L224.3 235.6L227.5 241.6L230.5 247.8L233.3 254.2L235.8 260.7L238 267.5L240.1 274.4L241.9 281.5Z" fill="#937b52"/>
<circle cx="145" cy="372" r="4.8" fill="#56391d"/><path d="M148.3 368.2L143.7 364.4L139.5 360.5L135.6 356.5L131.8 352.4L128.3 348.1L125 343.7L121.9 339.2L119 334.5L116.3 329.6L113.8 324.5L111.5 319.3L109.4 313.8L107.4 308.2L105.2 302.5L104.8 302.5L104.9 308.8L105.7 314.8L106.9 320.7L108.4 326.5L110.3 332.2L112.6 337.7L115.1 343.1L118 348.3L121.2 353.3L124.7 358.2L128.5 362.9L132.7 367.4L137.1 371.7L141.7 375.8Z" fill="#56391d"/><path d="M146.4 370.3L141.9 366.5L137.6 362.5L133.6 358.3L129.8 354L126.3 349.6L123 345L120 340.3L117.2 335.4L114.6 330.3L112.3 325.1L110.2 319.7L108.3 314.1L106.6 308.4L105 302.5L105 302.5L105.6 308.6L106.8 314.5L108.2 320.3L110 326L112 331.4L114.4 336.8L117 342L120 347L123.2 351.9L126.7 356.6L130.5 361.1L134.6 365.5L139 369.7L143.6 373.7Z" fill="#937b52"/>
<circle cx="92" cy="470" r="4.8" fill="#56391d"/><path d="M94.1 465.5L89.6 463.4L84.9 460.9L79.9 458.1L74.6 454.8L69.1 451.1L63.4 447L57.4 442.5L51.1 437.6L44.6 432.2L37.8 426.5L30.8 420.3L23.4 413.8L15.8 406.9L7.6 399.9L7.4 400.1L14 408.7L20.7 416.5L27.4 423.8L33.8 430.7L40.2 437.1L46.4 443L52.4 448.5L58.2 453.6L63.9 458.2L69.4 462.4L74.8 466.1L80 469.4L85.1 472.2L89.9 474.5Z" fill="#56391d"/><path d="M92.9 468L88.3 465.9L83.5 463.3L78.5 460.3L73.2 456.9L67.7 453.1L61.9 448.9L56 444.2L49.8 439.1L43.3 433.6L36.7 427.7L29.8 421.3L22.6 414.6L15.3 407.4L7.5 400L7.5 400L14.5 408.1L21.5 415.7L28.3 422.8L35 429.5L41.4 435.7L47.7 441.5L53.8 446.8L59.7 451.7L65.4 456.2L70.9 460.2L76.2 463.8L81.4 467L86.3 469.7L91.1 472Z" fill="#937b52"/>
<circle cx="130" cy="596" r="4.8" fill="#56391d"/><path d="M129.7 591L122.7 591.5L115.8 591.7L109 591.7L102.3 591.4L95.6 590.9L88.9 590.2L82.3 589.2L75.7 587.9L69.1 586.4L62.6 584.7L56 582.7L49.5 580.5L42.9 578.1L36.1 575.8L35.9 576.2L41.7 580.4L47.9 584L54.2 587.3L60.7 590.1L67.2 592.7L73.9 594.9L80.7 596.8L87.6 598.4L94.5 599.7L101.5 600.6L108.7 601.2L115.8 601.4L123.1 601.4L130.3 601Z" fill="#56391d"/><path d="M129.9 593.8L122.8 594.3L115.8 594.4L108.9 594.4L102.1 594L95.3 593.4L88.5 592.5L81.9 591.3L75.2 589.9L68.6 588.2L62 586.3L55.5 584L49 581.6L42.5 578.8L36 576L36 576L42.1 579.7L48.4 583L54.8 586L61.2 588.6L67.8 590.9L74.4 592.9L81.1 594.7L87.9 596.1L94.8 597.2L101.8 598L108.8 598.5L115.8 598.7L123 598.6L130.1 598.2Z" fill="#937b52"/>
<circle cx="236" cy="641" r="4.8" fill="#56391d"/><path d="M232 637.9L228.6 642.4L225.1 646.6L221.3 650.5L217.3 654.3L213.1 657.8L208.6 661.2L203.8 664.3L198.8 667.3L193.5 670.1L188 672.7L182.1 675.1L176 677.3L169.6 679.5L163 681.8L163 682.2L170.1 682L177 681.1L183.6 679.8L189.9 678.1L196.1 676.1L202 673.8L207.7 671.2L213.1 668.2L218.3 664.9L223.2 661.4L227.8 657.5L232.2 653.3L236.3 648.7L240 644.1Z" fill="#56391d"/><path d="M234.3 639.7L230.8 644.2L227.1 648.5L223.1 652.5L219 656.3L214.5 659.8L209.9 663.2L204.9 666.3L199.7 669.2L194.3 671.8L188.5 674.2L182.6 676.4L176.3 678.4L169.8 680.2L163 682L163 682L170 681.2L176.7 680L183.2 678.4L189.4 676.5L195.4 674.4L201.1 672L206.6 669.2L211.8 666.2L216.8 662.9L221.5 659.4L226 655.5L230.2 651.4L234.1 647L237.7 642.3Z" fill="#937b52"/>
<circle cx="297" cy="677" r="4.8" fill="#56391d"/><path d="M292 676.4L291.2 683L290.9 689.7L290.9 696.4L291.4 703.1L292.4 709.8L293.7 716.5L295.5 723.1L297.6 729.7L300.2 736.2L303.2 742.7L306.6 749.1L310.5 755.4L314.8 761.7L319.8 767.6L320.2 767.4L317 760.3L313.9 753.6L311 747L308.5 740.4L306.4 733.9L304.5 727.5L303 721.2L301.9 714.9L301.1 708.6L300.6 702.4L300.5 696.2L300.6 690.1L301.1 683.9L302 677.6Z" fill="#56391d"/><path d="M294.8 676.7L294 683.2L293.6 689.8L293.6 696.4L294 702.9L294.8 709.5L296 716L297.6 722.5L299.6 729.1L302 735.6L304.7 742L307.9 748.5L311.5 754.9L315.5 761.3L320 767.5L320 767.5L316.3 760.7L312.9 754.1L309.8 747.6L307 741.1L304.6 734.6L302.6 728.1L300.9 721.7L299.6 715.3L298.6 708.9L298 702.6L297.8 696.3L297.9 689.9L298.3 683.6L299.2 677.3Z" fill="#937b52"/>
<circle cx="273" cy="540" r="4.8" fill="#56391d"/><path d="M269.9 536.1L266.9 538.5L264 541L261.3 543.7L258.8 546.4L256.4 549.2L254.2 552.1L252.1 555.1L250.3 558.2L248.6 561.3L247.1 564.5L245.9 567.7L244.8 571L244 574.4L243.8 577.9L244.2 578.1L246.4 575.4L248.3 572.6L250.2 570L252.1 567.4L254.1 564.8L256.2 562.3L258.4 559.9L260.6 557.5L262.9 555.1L265.3 552.8L267.9 550.6L270.5 548.4L273.2 546.2L276.1 543.9Z" fill="#56391d"/><path d="M271.6 538.3L268.7 540.6L265.9 543.1L263.2 545.6L260.6 548.2L258.2 550.9L256 553.7L253.9 556.5L252 559.4L250.2 562.3L248.6 565.3L247.1 568.4L245.8 571.5L244.7 574.7L244 578L244 578L245.7 575.1L247.3 572.2L248.9 569.3L250.7 566.5L252.6 563.8L254.5 561.1L256.6 558.5L258.8 556L261.1 553.5L263.5 551L266 548.6L268.7 546.3L271.4 544L274.4 541.7Z" fill="#937b52"/>
<circle cx="414" cy="697" r="4.8" fill="#56391d"/><path d="M409 696.5L408.3 704.5L408 712.5L408 720.5L408.3 728.5L408.9 736.5L409.9 744.4L411.1 752.3L412.7 760.2L414.7 768L416.9 775.8L419.5 783.5L422.5 791.2L425.8 798.7L429.8 806.1L430.2 805.9L428.2 797.8L426.1 789.9L424.2 782.1L422.5 774.3L421.1 766.6L419.8 758.9L418.9 751.2L418.1 743.5L417.7 735.8L417.4 728.2L417.5 720.5L417.7 712.9L418.2 705.2L419 697.5Z" fill="#56391d"/><path d="M411.8 696.8L411.1 704.7L410.7 712.6L410.6 720.5L410.9 728.4L411.4 736.3L412.2 744.2L413.3 752L414.8 759.8L416.5 767.6L418.5 775.4L420.9 783.1L423.5 790.8L426.5 798.5L430 806L430 806L427.5 798.1L425 790.3L422.8 782.5L420.9 774.8L419.2 767L417.8 759.2L416.7 751.5L415.8 743.8L415.2 736L414.9 728.3L414.8 720.5L415 712.8L415.4 705L416.2 697.2Z" fill="#937b52"/>
<circle cx="574" cy="712" r="4.8" fill="#56391d"/><path d="M569 711.8L568.7 718.9L568.4 725.9L568.1 732.8L567.7 739.7L567.3 746.5L566.9 753.3L566.4 760L565.8 766.7L565.3 773.3L564.7 779.9L564.1 786.5L563.5 793L563 799.4L562.8 806L563.2 806L565.5 799.9L567.3 793.6L568.9 787.3L570.4 780.8L571.8 774.3L573 767.6L574.1 761L575.1 754.2L576.1 747.4L576.9 740.5L577.6 733.5L578.2 726.5L578.6 719.4L579 712.2Z" fill="#56391d"/><path d="M571.8 711.9L571.5 719L571.2 726L570.8 733L570.3 739.9L569.8 746.8L569.2 753.6L568.6 760.3L567.9 767L567.1 773.6L566.4 780.2L565.5 786.7L564.6 793.2L563.8 799.6L563 806L563 806L564.7 799.8L566.2 793.4L567.6 787L568.8 780.6L569.9 774L571 767.4L571.9 760.7L572.8 753.9L573.6 747.1L574.3 740.2L574.9 733.3L575.4 726.3L575.8 719.2L576.2 712.1Z" fill="#937b52"/>
<circle cx="712" cy="718" r="4.8" fill="#56391d"/><path d="M707 717.8L706.7 725.5L706.7 733.4L707.3 741.1L708.2 748.7L709.6 756.2L711.4 763.6L713.7 770.9L716.3 778L719.4 785L722.9 791.8L726.8 798.5L731.1 805L735.9 811.2L741.4 817.1L741.8 816.9L738 809.8L734.4 803L731.1 796.1L728.1 789.3L725.4 782.4L723.1 775.6L721.1 768.6L719.5 761.7L718.3 754.6L717.3 747.5L716.8 740.4L716.5 733.1L716.6 725.8L717 718.2Z" fill="#56391d"/><path d="M709.8 717.9L709.5 725.6L709.5 733.3L709.9 740.9L710.8 748.4L712.1 755.8L713.7 763.1L715.8 770.2L718.2 777.3L721.1 784.3L724.4 791.1L728 797.8L732.1 804.4L736.6 810.8L741.6 817L741.6 817L737.4 810.2L733.4 803.5L729.8 796.8L726.6 790L723.7 783.2L721.2 776.3L719 769.3L717.2 762.2L715.8 755.1L714.8 747.9L714.1 740.6L713.8 733.2L713.8 725.7L714.2 718.1Z" fill="#937b52"/>
<circle cx="839.6" cy="761" r="4.8" fill="#56391d"/><path d="M834.7 761.9L836 769.3L837.2 776.7L838 783.9L838.6 791.2L839 798.4L839.1 805.6L839 812.8L838.6 820L838 827.2L837.1 834.3L836 841.5L834.7 848.7L833.2 855.9L831.8 863.3L832.2 863.5L835.6 856.7L838.4 849.7L840.8 842.6L842.8 835.4L844.5 828.2L845.8 820.8L846.8 813.4L847.5 805.9L847.8 798.4L847.8 790.8L847.5 783.2L846.8 775.5L845.8 767.8L844.5 760.1Z" fill="#56391d"/><path d="M837.5 761.4L838.8 768.9L839.9 776.3L840.7 783.7L841.2 791.1L841.5 798.4L841.5 805.7L841.2 813L840.7 820.2L839.8 827.4L838.8 834.6L837.4 841.8L835.8 849L833.9 856.2L832 863.4L832 863.4L834.9 856.5L837.3 849.4L839.4 842.3L841.2 835.1L842.6 827.9L843.8 820.6L844.6 813.2L845.1 805.8L845.3 798.4L845.2 790.9L844.8 783.4L844.1 775.8L843.1 768.2L841.7 760.6Z" fill="#937b52"/>
<circle cx="880" cy="711" r="4.8" fill="#56391d"/><path d="M875 711.5L875.7 717.1L876.4 722.6L877.3 728.1L878.2 733.4L879.3 738.7L880.4 743.9L881.7 749L883 754L884.4 759L886 763.8L887.6 768.6L889.4 773.2L891.4 777.8L893.8 782.1L894.2 781.9L893.8 777L893.1 772.2L892.3 767.4L891.6 762.5L890.8 757.5L890.1 752.5L889.3 747.5L888.6 742.4L888 737.2L887.3 732L886.7 726.7L886.1 721.4L885.5 716L885 710.5Z" fill="#56391d"/><path d="M877.8 711.2L878.5 716.8L879.2 722.3L879.9 727.7L880.8 733L881.7 738.3L882.7 743.5L883.8 748.6L885 753.6L886.3 758.6L887.6 763.4L889 768.2L890.5 772.9L892.1 777.5L894 782L894 782L893.1 777.2L892 772.5L891 767.7L890 762.9L889 757.9L888.1 753L887.2 747.9L886.3 742.8L885.5 737.6L884.8 732.4L884 727.1L883.4 721.7L882.8 716.3L882.2 710.8Z" fill="#937b52"/>
<circle cx="921" cy="764" r="4.8" fill="#56391d"/><path d="M916.1 764.8L917 770.7L917.8 776.6L918.5 782.4L919.1 788.3L919.5 794.2L919.8 800.2L920 806.1L920 812.1L920 818.1L919.8 824.2L919.5 830.3L919.1 836.4L918.6 842.6L918.4 849L918.8 849L921.1 843.1L922.8 837L924.3 830.9L925.5 824.8L926.5 818.7L927.3 812.5L927.8 806.4L928.2 800.2L928.3 794L928.2 787.8L928 781.7L927.5 775.5L926.8 769.3L925.9 763.2Z" fill="#56391d"/><path d="M918.8 764.3L919.8 770.3L920.6 776.3L921.2 782.2L921.7 788.2L922 794.2L922.2 800.2L922.2 806.2L922.1 812.2L921.8 818.3L921.4 824.4L920.9 830.5L920.2 836.6L919.4 842.8L918.6 849L918.6 849L920.4 843L921.7 836.9L922.9 830.8L923.9 824.6L924.6 818.5L925.2 812.4L925.6 806.3L925.8 800.2L925.8 794.1L925.7 788L925.3 781.9L924.8 775.8L924.1 769.7L923.2 763.7Z" fill="#937b52"/>
<circle cx="1029" cy="555" r="4.8" fill="#56391d"/><path d="M1029.9 559.9L1038.6 558.2L1047 556.1L1055 553.5L1062.7 550.5L1070 547.1L1076.9 543.3L1083.4 539L1089.5 534.4L1095.1 529.3L1100.3 523.9L1105.1 518L1109.4 511.8L1113.2 505.2L1116.2 498.1L1115.8 497.9L1111 503.8L1106.3 509.5L1101.4 514.9L1096.2 519.8L1090.8 524.4L1085.1 528.6L1079.1 532.5L1072.8 536L1066.2 539.2L1059.3 542L1052 544.5L1044.4 546.7L1036.5 548.5L1028.1 550.1Z" fill="#56391d"/><path d="M1029.4 557.1L1038 555.5L1046.3 553.4L1054.2 551L1061.7 548.1L1068.9 544.9L1075.7 541.2L1082.2 537.2L1088.2 532.7L1093.9 527.9L1099.2 522.7L1104 517.1L1108.5 511.1L1112.5 504.8L1116 498L1116 498L1111.7 504.3L1107.2 510.2L1102.5 515.8L1097.4 521L1092 525.8L1086.3 530.2L1080.3 534.3L1074 538.1L1067.3 541.4L1060.3 544.4L1052.9 547.1L1045.2 549.3L1037.1 551.3L1028.6 552.9Z" fill="#937b52"/>
<circle cx="982" cy="457" r="4.8" fill="#56391d"/><path d="M984.5 461.3L989.9 458.1L995.2 454.6L1000.3 450.9L1005.1 446.9L1009.8 442.7L1014.2 438.3L1018.4 433.7L1022.3 428.8L1026 423.7L1029.4 418.5L1032.6 413L1035.6 407.3L1038.2 401.4L1040.2 395.1L1039.8 394.9L1035.9 400.1L1032.3 405.3L1028.6 410.3L1024.8 415.1L1020.8 419.7L1016.8 424.1L1012.6 428.3L1008.4 432.3L1003.9 436.2L999.3 439.8L994.6 443.3L989.8 446.5L984.7 449.7L979.5 452.7Z" fill="#56391d"/><path d="M983.1 458.9L988.5 455.7L993.7 452.4L998.7 448.7L1003.5 444.9L1008.1 440.9L1012.5 436.6L1016.7 432.2L1020.7 427.5L1024.5 422.6L1028.1 417.5L1031.5 412.2L1034.6 406.7L1037.5 401L1040 395L1040 395L1036.6 400.5L1033.2 405.9L1029.7 411.1L1026.1 416.1L1022.3 420.9L1018.4 425.5L1014.3 429.8L1010 434L1005.6 438L1001 441.8L996.2 445.4L991.3 448.8L986.2 452.1L980.9 455.1Z" fill="#937b52"/>
<circle cx="770" cy="346" r="4.8" fill="#56391d"/><path d="M774.7 344.4L772.2 336.8L769.7 329.2L767.2 321.5L764.8 313.6L762.5 305.7L760.2 297.6L757.9 289.5L755.7 281.2L753.6 272.8L751.5 264.4L749.4 255.8L747.3 247.1L745.2 238.3L742.7 229.5L742.3 229.5L742.6 238.7L743.5 247.8L744.6 256.7L745.8 265.5L747.2 274.2L748.7 282.8L750.3 291.3L752.1 299.7L754 307.9L756 316.1L758.1 324.1L760.4 332.1L762.8 339.9L765.3 347.6Z" fill="#56391d"/><path d="M772.1 345.3L769.5 337.7L767.1 330L764.7 322.2L762.3 314.3L760.1 306.3L757.9 298.2L755.8 290L753.7 281.7L751.7 273.2L749.8 264.7L748 256L746.2 247.3L744.4 238.4L742.5 229.5L742.5 229.5L743.4 238.6L744.6 247.6L745.9 256.4L747.4 265.2L749 273.8L750.7 282.3L752.5 290.8L754.4 299.1L756.4 307.3L758.5 315.4L760.7 323.4L763 331.3L765.4 339L767.9 346.7Z" fill="#937b52"/>
<circle cx="410" cy="305" r="4.8" fill="#56391d"/><path d="M414.9 306.1L417 296.9L418.7 287.7L420.1 278.8L421.1 270L421.7 261.5L422 253.1L421.9 245L421.4 237.1L420.6 229.4L419.4 222L417.8 214.8L415.8 207.8L413.3 201.2L410.2 194.9L409.8 195.1L410.9 201.9L412.1 208.7L413 215.6L413.7 222.7L414.1 230L414.2 237.4L414.1 245L413.7 252.8L413 260.8L412 269L410.7 277.4L409.1 286L407.3 294.8L405.1 303.9Z" fill="#56391d"/><path d="M412.1 305.5L414.2 296.3L416 287.2L417.4 278.4L418.5 269.7L419.3 261.3L419.6 253L419.7 245L419.4 237.2L418.7 229.6L417.7 222.2L416.4 215L414.7 208.1L412.6 201.4L410 195L410 195L411.6 201.7L413.1 208.5L414.4 215.4L415.3 222.5L415.9 229.8L416.3 237.3L416.3 245L416 252.9L415.4 261L414.5 269.3L413.3 277.8L411.8 286.5L410 295.4L407.9 304.5Z" fill="#937b52"/>
<circle cx="327" cy="417" r="4.8" fill="#56391d"/><path d="M331.5 414.8L327.8 407.4L325.8 400.6L324.9 393.8L325 387L325.8 380.1L327.1 373L328.7 365.7L330.2 358.2L331.5 350.6L332.1 342.8L331.8 334.9L330.2 326.8L327.2 318.8L322.2 310.9L321.8 311.1L324.8 319.7L326.5 327.6L326.9 335.1L326.3 342.4L325 349.5L323.2 356.6L321.1 363.8L319 371.1L317.1 378.5L315.8 386.2L315.4 394.2L316.2 402.5L318.6 411L322.5 419.2Z" fill="#56391d"/><path d="M329 416L325.2 408.4L323.1 401.1L322.2 393.9L322.4 386.8L323.3 379.6L324.8 372.4L326.5 365.2L328.2 357.8L329.6 350.3L330.4 342.7L330.4 334.9L329.1 327L326.5 319L322 311L322 311L325.5 319.4L327.6 327.4L328.3 335L328 342.5L326.8 349.8L325.2 357.1L323.2 364.3L321.3 371.6L319.6 379L318.4 386.5L318.1 394.1L318.9 401.9L321.2 410L325 418Z" fill="#937b52"/>
<circle cx="237" cy="424" r="4.8" fill="#56391d"/><path d="M235.6 419.2L231.4 420.5L228 421L224.7 421.1L221.6 420.7L218.5 420L215.3 419L212 417.8L208.7 416.5L205.2 415.3L201.6 414.2L197.8 413.4L193.9 413.1L189.9 413.4L186 414.8L186 415.2L189.9 416L193.4 416.9L196.5 418.1L199.6 419.6L202.5 421.2L205.6 423.1L208.7 424.9L212.1 426.7L215.7 428.4L219.6 429.7L223.9 430.5L228.5 430.7L233.5 430.2L238.4 428.8Z" fill="#56391d"/><path d="M236.4 421.9L232 423.2L228.1 423.7L224.5 423.7L221 423.2L217.7 422.4L214.4 421.2L211.1 419.8L207.8 418.4L204.4 417L201 415.7L197.5 414.7L193.8 414.2L189.9 414.2L186 415L186 415L189.9 415.2L193.5 415.8L196.9 416.7L200.1 418L203.3 419.5L206.5 421.2L209.7 422.9L213 424.5L216.5 426L220.2 427.1L224.1 427.9L228.4 428L232.9 427.4L237.6 426.1Z" fill="#937b52"/>
<circle cx="180" cy="508" r="4.8" fill="#56391d"/><path d="M178.6 503.2L172 505.2L165.6 508L159.5 511.4L153.7 515.1L148 519.1L142.5 523.2L137.1 527.3L131.6 531.2L126 534.9L120.3 538.3L114.4 541.2L108.1 543.7L101.3 545.4L94 546.8L94 547.2L101.6 548L109 547.4L116 545.8L122.8 543.5L129.2 540.7L135.4 537.3L141.4 533.7L147.3 530L153 526.4L158.6 522.8L164.2 519.6L169.8 516.8L175.4 514.5L181.4 512.8Z" fill="#56391d"/><path d="M179.4 505.9L173 507.8L166.8 510.5L160.8 513.7L155.1 517.3L149.4 521.1L143.9 525.1L138.3 529.1L132.7 533L127 536.6L121 539.8L114.9 542.6L108.3 544.7L101.4 546.2L94 547L94 547L101.5 547.2L108.7 546.3L115.5 544.5L122.1 542L128.3 539L134.3 535.6L140.2 531.9L145.9 528.1L151.6 524.3L157.2 520.7L162.9 517.3L168.6 514.3L174.4 511.9L180.6 510.1Z" fill="#937b52"/>
<circle cx="350" cy="594" r="4.8" fill="#56391d"/><path d="M345.2 595.4L347.2 601.9L349.6 607.8L352.4 613.1L355.3 617.8L358.4 622.1L361.6 626.1L364.8 629.8L367.9 633.4L371 637L373.9 640.7L376.8 644.8L379.5 649.3L382.1 654.3L384.8 660.1L385.2 659.9L384.5 653.5L383 647.8L381.1 642.5L378.9 637.7L376.3 633.2L373.7 629L371 625L368.3 621L365.6 617.1L363.1 613L360.7 608.6L358.6 603.9L356.6 598.6L354.8 592.6Z" fill="#56391d"/><path d="M347.9 594.6L349.8 601L352.1 606.7L354.7 611.8L357.5 616.5L360.5 620.7L363.5 624.6L366.5 628.4L369.6 632.1L372.5 635.9L375.4 639.9L378 644.1L380.5 648.8L382.8 654.1L385 660L385 660L383.8 653.8L382 648.2L379.9 643.2L377.4 638.6L374.8 634.3L372.1 630.3L369.2 626.3L366.4 622.5L363.6 618.5L360.9 614.3L358.4 609.9L356 605L353.9 599.6L352.1 593.4Z" fill="#937b52"/>
<circle cx="995" cy="691" r="4.8" fill="#56391d"/><path d="M992.5 695.3L997.4 698.2L1002.4 700.9L1007.3 703.5L1012.2 706L1017 708.5L1021.8 711.1L1026.6 713.9L1031.3 716.8L1036 720.1L1040.8 723.7L1045.6 727.8L1050.5 732.3L1055.5 737.5L1060.8 743.1L1061.2 742.9L1057.5 735.9L1053.4 729.8L1049.1 724.4L1044.7 719.5L1040.2 715L1035.6 711L1030.9 707.4L1026.2 704L1021.5 700.9L1016.7 698L1011.9 695.2L1007.2 692.4L1002.4 689.6L997.5 686.7Z" fill="#56391d"/><path d="M993.9 692.9L998.8 695.8L1003.8 698.5L1008.6 701.2L1013.5 703.8L1018.3 706.4L1023.1 709.1L1027.8 712L1032.5 715.2L1037.2 718.6L1041.9 722.5L1046.6 726.8L1051.3 731.6L1056.1 737L1061 743L1061 743L1056.9 736.4L1052.5 730.6L1048.1 725.4L1043.6 720.7L1039 716.5L1034.4 712.7L1029.7 709.2L1025 706L1020.2 703.1L1015.4 700.3L1010.6 697.5L1005.8 694.8L1001 692L996.1 689.1Z" fill="#937b52"/>
<circle cx="1036" cy="633" r="4.8" fill="#56391d"/><path d="M1036.4 638L1044.8 637.3L1053.1 635.6L1060.9 633.2L1068.4 630.3L1075.6 626.9L1082.6 623.3L1089.4 619.6L1096.1 615.9L1102.9 612.4L1109.7 609.1L1116.8 606.1L1124.1 603.7L1131.8 601.7L1140 600.2L1140 599.8L1131.5 599.2L1123.3 599.9L1115.4 601.5L1107.7 603.7L1100.2 606.4L1093 609.4L1085.9 612.6L1078.9 615.8L1071.9 618.9L1065 621.8L1057.9 624.2L1050.8 626.1L1043.5 627.4L1035.6 628Z" fill="#56391d"/><path d="M1036.2 635.2L1044.4 634.5L1052.4 632.9L1060.1 630.7L1067.4 627.9L1074.5 624.7L1081.5 621.2L1088.4 617.6L1095.2 614.1L1102.1 610.7L1109.2 607.5L1116.4 604.8L1123.9 602.6L1131.7 601L1140 600L1140 600L1131.6 600L1123.5 601L1115.8 602.8L1108.3 605.2L1101 608.1L1093.9 611.3L1086.9 614.6L1079.9 618L1073 621.2L1065.9 624.2L1058.8 626.7L1051.5 628.8L1043.9 630.2L1035.8 630.8Z" fill="#937b52"/>
<circle cx="887" cy="376" r="4.8" fill="#56391d"/><path d="M892 375.6L891.2 367.7L891.7 361.4L893.3 355.7L895.7 350.6L899.1 345.8L903.2 341.2L907.9 336.6L913.1 332.1L918.5 327.4L923.9 322.5L929.2 317.2L934 311.5L938.2 305.2L941.2 298.1L940.8 297.9L936.1 303.7L931.2 309L925.8 313.7L920.2 318.1L914.4 322.3L908.6 326.4L902.8 330.6L897.4 335.2L892.3 340.1L887.9 345.8L884.5 352.2L882.2 359.5L881.3 367.8L882 376.4Z" fill="#56391d"/><path d="M889.2 375.8L888.4 367.7L889 360.8L890.8 354.8L893.5 349.3L897.2 344.2L901.5 339.5L906.5 334.9L911.8 330.4L917.3 325.9L922.9 321.2L928.2 316.2L933.2 310.8L937.6 304.8L941 298L941 298L936.7 304.2L932 309.7L926.8 314.7L921.3 319.3L915.6 323.7L909.9 328L904.3 332.3L899 336.9L894.2 341.7L890.1 347.1L886.9 353.2L884.9 360.1L884.1 367.7L884.8 376.2Z" fill="#937b52"/>
<circle cx="472" cy="350" r="4.8" fill="#56391d"/><path d="M477 350.7L478.2 341L480.5 333.1L483.6 326.3L487.6 320.3L492.3 314.8L497.5 309.8L503.1 305L508.9 300.3L514.7 295.6L520.2 290.6L525.2 285.2L529.5 279.2L532.6 272.5L534.2 265.1L533.8 264.9L530.3 271.5L526.3 277L521.6 281.9L516.4 286.2L510.7 290.4L504.6 294.5L498.4 298.8L492.1 303.4L486.1 308.6L480.4 314.6L475.4 321.5L471.4 329.6L468.5 339L467 349.3Z" fill="#56391d"/><path d="M474.2 350.3L475.4 340.5L477.9 332.1L481.3 324.9L485.6 318.6L490.5 313L496 308L501.8 303.2L507.7 298.7L513.5 294.1L519.1 289.3L524.2 284.2L528.5 278.6L531.9 272.2L534 265L534 265L531 271.8L527.2 277.6L522.7 282.8L517.5 287.5L511.8 291.9L505.8 296.2L499.7 300.5L493.7 305.2L487.8 310.3L482.5 316.2L477.7 322.9L473.9 330.6L471.2 339.6L469.8 349.7Z" fill="#937b52"/>
<circle cx="372" cy="504" r="4.8" fill="#56391d"/><path d="M376.1 506.9L379.2 502.4L381.4 497.5L382.6 492.5L383 487.6L382.8 482.8L382.1 478.2L381.1 473.6L380 469.1L379 464.6L378.1 460.1L377.5 455.5L377.3 450.7L377.5 445.6L378.2 440.1L377.8 439.9L375.1 445L373.5 450.2L372.6 455.4L372.4 460.5L372.5 465.5L372.9 470.3L373.4 474.9L373.8 479.2L374 483.3L373.8 487.2L373.3 490.7L372.3 494.1L370.6 497.4L367.9 501.1Z" fill="#56391d"/><path d="M373.8 505.3L376.8 501L378.8 496.5L380 492L380.4 487.5L380.3 483L379.7 478.5L378.9 474L378 469.5L377.2 464.9L376.5 460.2L376.1 455.4L376.1 450.5L376.8 445.4L378 440L378 440L375.8 445.2L374.6 450.3L374 455.4L374 460.4L374.4 465.2L374.9 470L375.6 474.5L376.1 478.9L376.5 483.2L376.4 487.3L375.9 491.2L374.9 495L373 498.8L370.2 502.7Z" fill="#937b52"/>
</g>
<g id="leaders" fill="none" stroke="#1a1a1a" stroke-width="3.5" stroke-linejoin="miter">
<path d="M146 150V181L165.5 249"/>
<path d="M517.5 110.5V139.5L574 338"/>
<path d="M793 132H763L632.5 360"/>
<path d="M1001 223.5H970.5L810 410"/>
<path d="M1119 346H1089.5L839 498"/>
<path d="M1175 465H1145L913 563"/>
<path d="M1050 806H1019.5L876 633"/>
<path d="M386 910H416L520 871.5"/>
</g>
<g id="labels">
<text x="110" y="132.5" font-size="58" textLength="115" lengthAdjust="spacingAndGlyphs">pilus</text>
<text x="479" y="93" font-size="58" textLength="188" lengthAdjust="spacingAndGlyphs">capsule</text>
<text x="811" y="148" font-size="58" textLength="196" lengthAdjust="spacingAndGlyphs">cell wall</text>
<text x="1017.5" y="236" font-size="58" textLength="463" lengthAdjust="spacingAndGlyphs">plasma membrane</text>
<text x="1138.5" y="362.3" font-size="58" textLength="368" lengthAdjust="spacingAndGlyphs">nucleoid (DNA)</text>
<text x="1195" y="479.5" font-size="58" textLength="252" lengthAdjust="spacingAndGlyphs">cytoplasm</text>
<text x="1069.5" y="820.5" font-size="58" textLength="255.5" lengthAdjust="spacingAndGlyphs">ribosomes</text>
<text x="145" y="924" font-size="58" textLength="227.5" lengthAdjust="spacingAndGlyphs">flagellum</text>
</g>
</svg></body></html>
